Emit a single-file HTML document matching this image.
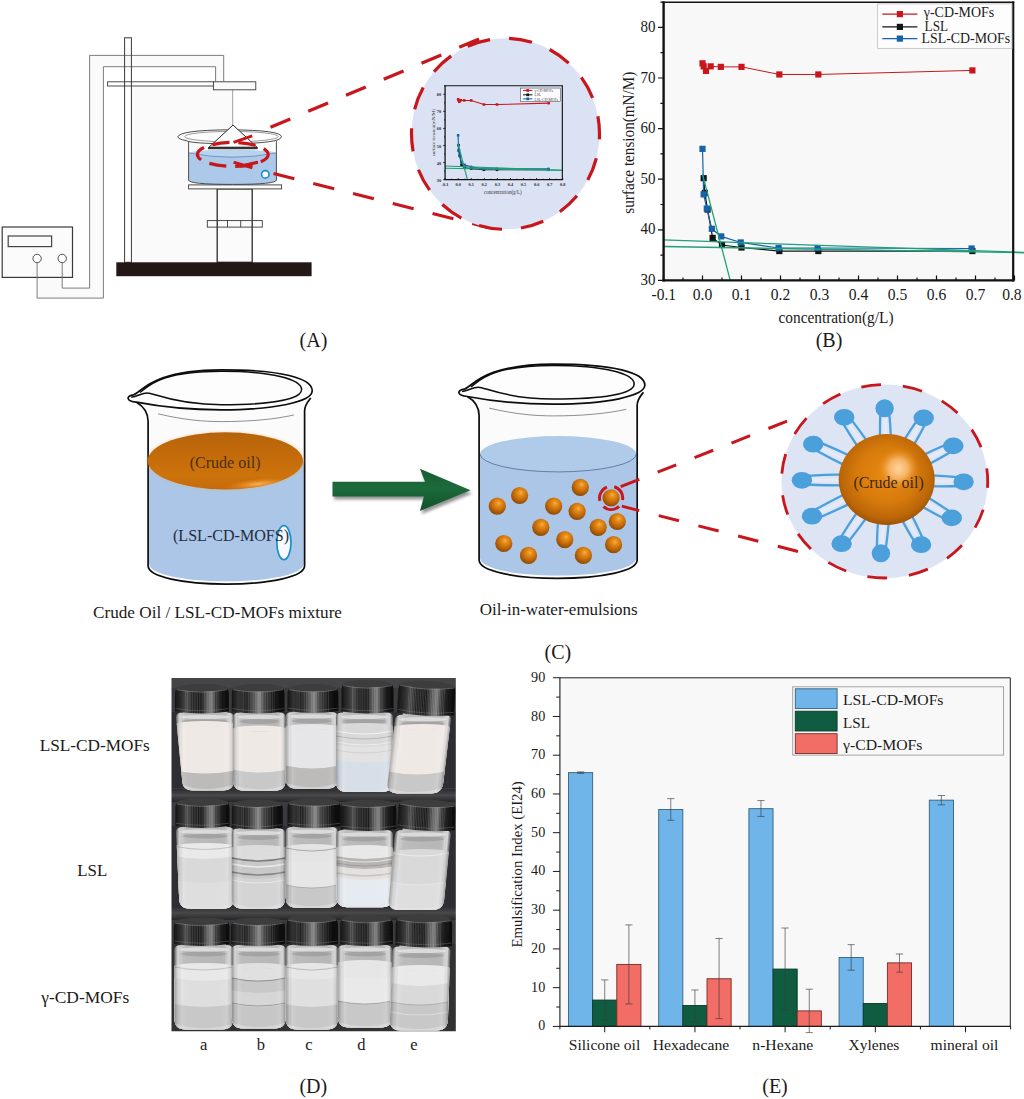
<!DOCTYPE html>
<html><head><meta charset="utf-8"><title>Figure</title>
<style>
html,body{margin:0;padding:0;background:#fff;}
body{width:1024px;height:1099px;overflow:hidden;font-family:"Liberation Serif",serif;}
svg{display:block;}
svg text{font-family:"Liberation Serif",serif;fill:#1a1a1a;}
</style></head><body>
<svg width="1024" height="1099" viewBox="0 0 1024 1099">
<defs><clipPath id="clipB"><rect x="663.6" y="2.3" width="361" height="278.1"/></clipPath>
<radialGradient id="gBall" cx="0.56" cy="0.36" r="0.62" fx="0.58" fy="0.33">
 <stop offset="0" stop-color="#f7b04a"/><stop offset="0.22" stop-color="#e8901c"/><stop offset="0.6" stop-color="#c96e0a"/><stop offset="1" stop-color="#8f4c06"/>
</radialGradient>
<radialGradient id="gBig" cx="0.5" cy="0.45" r="0.56">
 <stop offset="0" stop-color="#e98a12"/><stop offset="0.55" stop-color="#d67a0c"/><stop offset="0.85" stop-color="#bb6608"/><stop offset="1" stop-color="#9a5206"/>
</radialGradient>
<radialGradient id="gHi" cx="0.5" cy="0.5" r="0.5">
 <stop offset="0" stop-color="#ffd9a8" stop-opacity="0.95"/><stop offset="0.45" stop-color="#fbbd74" stop-opacity="0.85"/><stop offset="1" stop-color="#e98a12" stop-opacity="0"/>
</radialGradient>
<linearGradient id="gOil" x1="0" y1="0" x2="0" y2="1">
 <stop offset="0" stop-color="#b5640c"/><stop offset="0.35" stop-color="#c26a0a"/><stop offset="0.75" stop-color="#cd730c"/><stop offset="1" stop-color="#c46a0a"/>
</linearGradient>
<radialGradient id="gOilHi" cx="0.5" cy="0.5" r="0.5">
 <stop offset="0" stop-color="#ffb45a" stop-opacity="0.95"/><stop offset="1" stop-color="#e98a12" stop-opacity="0"/>
</radialGradient>
<linearGradient id="gArrow" x1="0" y1="0" x2="0" y2="1">
 <stop offset="0" stop-color="#165c32"/><stop offset="0.45" stop-color="#1c6b3b"/><stop offset="1" stop-color="#11512a"/>
</linearGradient>
<filter id="fBlur" x="-20%" y="-50%" width="140%" height="220%"><feGaussianBlur stdDeviation="1.6"/></filter>
<filter id="fBlur2" x="-20%" y="-20%" width="140%" height="140%"><feGaussianBlur stdDeviation="2.2"/></filter>

<linearGradient id="gCap" x1="0" y1="0" x2="1" y2="0">
 <stop offset="0" stop-color="#151515"/><stop offset="0.10" stop-color="#2a2a2a"/><stop offset="0.22" stop-color="#4a4a4a"/><stop offset="0.32" stop-color="#222"/>
 <stop offset="0.50" stop-color="#1a1a1a"/><stop offset="0.60" stop-color="#5e5e5e"/><stop offset="0.68" stop-color="#7a7a7a"/><stop offset="0.76" stop-color="#333"/><stop offset="0.9" stop-color="#151515"/><stop offset="1" stop-color="#0c0c0c"/>
</linearGradient>
<linearGradient id="gCap2" x1="0" y1="0" x2="1" y2="0">
 <stop offset="0" stop-color="#141414"/><stop offset="0.12" stop-color="#343434"/><stop offset="0.28" stop-color="#1c1c1c"/><stop offset="0.42" stop-color="#505050"/>
 <stop offset="0.52" stop-color="#858585"/><stop offset="0.62" stop-color="#404040"/><stop offset="0.78" stop-color="#181818"/><stop offset="1" stop-color="#0a0a0a"/>
</linearGradient>
<linearGradient id="gGlass" x1="0" y1="0" x2="1" y2="0">
 <stop offset="0" stop-color="#8c8c8c"/><stop offset="0.05" stop-color="#e2e2e2"/><stop offset="0.14" stop-color="#bcbcbc"/><stop offset="0.5" stop-color="#b9b9b9"/><stop offset="0.86" stop-color="#b6b6b6"/><stop offset="0.95" stop-color="#e4e4e4"/><stop offset="1" stop-color="#8a8a8a"/>
</linearGradient>
<linearGradient id="gShade" x1="0" y1="0" x2="1" y2="0">
 <stop offset="0" stop-color="#000" stop-opacity="0.28"/><stop offset="0.07" stop-color="#000" stop-opacity="0.04"/><stop offset="0.12" stop-color="#fff" stop-opacity="0.12"/><stop offset="0.2" stop-color="#fff" stop-opacity="0"/>
 <stop offset="0.8" stop-color="#fff" stop-opacity="0"/><stop offset="0.9" stop-color="#fff" stop-opacity="0.10"/><stop offset="0.95" stop-color="#000" stop-opacity="0.05"/><stop offset="1" stop-color="#000" stop-opacity="0.30"/>
</linearGradient>
<linearGradient id="gShelf" x1="0" y1="0" x2="0" y2="1">
 <stop offset="0" stop-color="#2c2c2e"/><stop offset="0.5" stop-color="#48484a"/><stop offset="1" stop-color="#262628"/>
</linearGradient>
<pattern id="pRidge" width="1.7" height="8" patternUnits="userSpaceOnUse"><rect width="0.7" height="8" fill="#fff" opacity="0.16"/></pattern>
<filter id="fPhoto" x="-2%" y="-2%" width="104%" height="104%"><feGaussianBlur stdDeviation="0.55"/></filter>
<filter id="fSoft" x="-10%" y="-10%" width="120%" height="120%"><feGaussianBlur stdDeviation="1.2"/></filter>
<clipPath id="clipPhoto"><rect x="171.5" y="677.9" width="284.3" height="353.3"/></clipPath>
</defs>
<rect width="1024" height="1099" fill="#ffffff"/>
<g id="panelA">
<path d="M62.2 262.7 V288.1 H89.6 V55.4 H223.7 V81.4 H215.6 V66.7 H103.4 V298.1 H37.1 V262.7" fill="#fafafa" stroke="none"/>
<rect x="131.5" y="86" width="101" height="176" fill="#fafafa"/>
<rect x="2.2" y="227" width="70.3" height="50.4" fill="#fbfbfb" stroke="#3a3a3a" stroke-width="1.2"/>
<rect x="8.2" y="236" width="43.4" height="10.6" fill="#fafafa" stroke="#444" stroke-width="1.2"/>
<circle cx="37.1" cy="258.5" r="4.2" fill="#fff" stroke="#3a3a3a" stroke-width="0.9"/>
<circle cx="62.2" cy="258.5" r="4.2" fill="#fff" stroke="#3a3a3a" stroke-width="0.9"/>
<path d="M62.2 262.7 V288.1 H89.6 V55.4 H223.7 V81.4" fill="none" stroke="#6e6e6e" stroke-width="0.9"/>
<path d="M37.1 262.7 V298.1 H103.4 V66.7 H215.6 V81.4" fill="none" stroke="#6e6e6e" stroke-width="0.9"/>
<rect x="124.6" y="37.8" width="6.8" height="224.5" fill="none" stroke="#3a3a3a" stroke-width="1"/>
<rect x="107.6" y="81.8" width="106" height="4.2" fill="none" stroke="#3a3a3a" stroke-width="0.9"/>
<rect x="213.4" y="81.8" width="42.4" height="8" fill="#fafafa" stroke="#3a3a3a" stroke-width="0.9"/>
<line x1="232.7" y1="89.9" x2="232.7" y2="125" stroke="#777" stroke-width="0.7"/>
<rect x="217.2" y="188.9" width="35" height="73.4" fill="#fbfbfb" stroke="#2a2a2a" stroke-width="1.3"/>
<rect x="207.3" y="220.6" width="55" height="6.5" fill="none" stroke="#3a3a3a" stroke-width="0.9"/>
<path d="M227.5 220.6 V227.1 M240.7 220.6 V227.1" stroke="#3a3a3a" stroke-width="0.9"/>
<rect x="188.6" y="184.9" width="93" height="4" fill="#fafafa" stroke="#3a3a3a" stroke-width="0.9"/>
<rect x="116.3" y="262.3" width="195.3" height="13.9" fill="#231815"/>
<path d="M189 153 Q232 158 276 153 L276 180 Q276 184.2 232.5 184.4 Q189 184.2 189 180 Z" fill="#adc9ea"/>
<ellipse cx="232.5" cy="153" rx="43.5" ry="3.2" fill="#b9d3ee"/>
<path d="M189 153 Q232.5 161.5 276 153" fill="none" stroke="#5b7ea6" stroke-width="0.7"/>
<path d="M188.6 141.5 V180 Q188.6 184.4 232.5 184.4 Q276.4 184.4 276.4 180 V141" fill="none" stroke="#3a3a3a" stroke-width="0.9"/>
<path d="M177.8 136.8 Q180 130.2 229.5 129.8 Q281.4 130.2 281.4 136.7 Q281.4 143.4 229.5 143.8 Q192 143.6 186 140.6 Q177.8 139 177.8 136.8 Z" fill="#ffffff" fill-opacity="0.55" stroke="#3a3a3a" stroke-width="0.9"/>
<ellipse cx="231.5" cy="136.6" rx="46.8" ry="5.2" fill="none" stroke="#555" stroke-width="0.6"/>
<path d="M233 125 L209 147.2 H257 Z" fill="#fdfdfd" stroke="#2a2a2a" stroke-width="1"/>
<rect x="208.3" y="147.3" width="49" height="1.6" fill="#2a2a2a" stroke="#2a2a2a" stroke-width="0.6"/>
<ellipse cx="232.8" cy="154.4" rx="35.4" ry="12" fill="none" stroke="#c8161d" stroke-width="3.2" stroke-dasharray="17 9" stroke-dashoffset="6"/>
<path d="M233.5 142.4 L252.2 135.9 M233.6 162.2 L252.4 167.7 M240 166.2 L258 162.2" fill="none" stroke="#c8161d" stroke-width="3"/>
<circle cx="265.3" cy="174.4" r="3.7" fill="#fbfdff" stroke="#1b8fc4" stroke-width="1.7"/>
<line x1="270.5" y1="127.3" x2="480" y2="38.5" stroke="#c8161d" stroke-width="3.2" stroke-dasharray="21.5 19.5"/>
<line x1="273.5" y1="173.5" x2="490" y2="228" stroke="#c8161d" stroke-width="3.2" stroke-dasharray="21.5 19.5"/>
<path d="M599.5 133.8 A94 95.5 0 1 1 411.5 133.8 A94 95.5 0 1 1 599.5 133.8" fill="#dbe2f4" stroke="#c8161d" stroke-width="3.2" pathLength="14" stroke-dasharray="0.55 0.45" stroke-dashoffset="0.416"/>
</g>
<g transform="translate(222.510,85.023) scale(0.3354,0.3376)">
<path d="M703.67 178.19 L704.84 192.86 L707.57 209.56 L712.64 237.9 L722.0 244.98 L741.5 247.51 L779.33 251.05 L818.33 251.05 L972.38 251.05" fill="none" stroke="#141414" stroke-width="3.4"/>
<rect x="699.92" y="174.44" width="7.5" height="7.5" fill="#141414"/>
<rect x="701.09" y="189.11" width="7.5" height="7.5" fill="#141414"/>
<rect x="703.82" y="205.81" width="7.5" height="7.5" fill="#141414"/>
<rect x="708.89" y="234.15" width="7.5" height="7.5" fill="#141414"/>
<rect x="718.25" y="241.23" width="7.5" height="7.5" fill="#141414"/>
<rect x="737.75" y="243.76" width="7.5" height="7.5" fill="#141414"/>
<rect x="775.58" y="247.30" width="7.5" height="7.5" fill="#141414"/>
<rect x="814.58" y="247.30" width="7.5" height="7.5" fill="#141414"/>
<rect x="968.63" y="247.30" width="7.5" height="7.5" fill="#141414"/>
<path d="M702.5 148.84 L703.67 194.38 L706.79 208.55 L711.86 228.79 L721.22 236.38 L740.72 242.45 L778.55 248.02 L817.55 248.02 L971.6 248.52" fill="none" stroke="#1762a8" stroke-width="3.4"/>
<rect x="698.75" y="145.09" width="7.5" height="7.5" fill="#1762a8"/>
<rect x="699.92" y="190.63" width="7.5" height="7.5" fill="#1762a8"/>
<rect x="703.04" y="204.80" width="7.5" height="7.5" fill="#1762a8"/>
<rect x="708.11" y="225.04" width="7.5" height="7.5" fill="#1762a8"/>
<rect x="717.47" y="232.63" width="7.5" height="7.5" fill="#1762a8"/>
<rect x="736.97" y="238.70" width="7.5" height="7.5" fill="#1762a8"/>
<rect x="774.80" y="244.27" width="7.5" height="7.5" fill="#1762a8"/>
<rect x="813.80" y="244.27" width="7.5" height="7.5" fill="#1762a8"/>
<rect x="967.85" y="244.77" width="7.5" height="7.5" fill="#1762a8"/>
<path d="M702.5 42.07 L703.67 45.11 L706.01 49.66 L710.69 45.11 L720.83 45.62 L741.5 45.62 L779.33 57.76 L818.33 57.76 L972.38 53.71" fill="none" stroke="#c8161d" stroke-width="3.2"/>
<rect x="698.75" y="38.32" width="7.5" height="7.5" fill="#c8161d"/>
<rect x="699.92" y="41.36" width="7.5" height="7.5" fill="#c8161d"/>
<rect x="702.26" y="45.91" width="7.5" height="7.5" fill="#c8161d"/>
<rect x="706.94" y="41.36" width="7.5" height="7.5" fill="#c8161d"/>
<rect x="717.08" y="41.87" width="7.5" height="7.5" fill="#c8161d"/>
<rect x="737.75" y="41.87" width="7.5" height="7.5" fill="#c8161d"/>
<rect x="775.58" y="54.01" width="7.5" height="7.5" fill="#c8161d"/>
<rect x="814.58" y="54.01" width="7.5" height="7.5" fill="#c8161d"/>
<rect x="968.63" y="49.96" width="7.5" height="7.5" fill="#c8161d"/>
<g clip-path="url(#clipB)">
<line x1="663.5" y1="239.92" x2="1014.5" y2="252.32" stroke="#1fa07a" stroke-width="3.4"/>
<line x1="663.5" y1="246.5" x2="1014.5" y2="252.82" stroke="#1fa07a" stroke-width="3.4"/>
<line x1="702.5" y1="174.14" x2="730.19" y2="280.4" stroke="#1fa07a" stroke-width="3.4"/>
</g>
<line x1="663.6" y1="1.5999999999999999" x2="663.6" y2="281.59999999999997" stroke="#111" stroke-width="3.8"/>
<line x1="662.4" y1="280.4" x2="1014.3000000000001" y2="280.4" stroke="#111" stroke-width="3.8"/>
<line x1="1013.2" y1="1.5999999999999999" x2="1013.2" y2="281.59999999999997" stroke="#111" stroke-width="3.4"/>
<line x1="662.4" y1="2.3" x2="1014.3000000000001" y2="2.3" stroke="#111" stroke-width="3.4"/>
<path d="M658.0 280.4 H663.6 M658.0 229.8 H663.6 M658.0 179.2 H663.6 M658.0 128.6 H663.6 M658.0 78.0 H663.6 M658.0 27.4 H663.6 M660.4 255.1 H663.6 M660.4 204.5 H663.6 M660.4 153.9 H663.6 M660.4 103.3 H663.6 M660.4 52.7 H663.6 M660.4 2.1 H663.6 M663.5 280.4 V275.4 M702.5 280.4 V275.4 M741.5 280.4 V275.4 M780.5 280.4 V275.4 M819.5 280.4 V275.4 M858.5 280.4 V275.4 M897.5 280.4 V275.4 M936.5 280.4 V275.4 M975.5 280.4 V275.4 M1014.5 280.4 V275.4 M683.0 280.4 V277.4 M722.0 280.4 V277.4 M761.0 280.4 V277.4 M800.0 280.4 V277.4 M839.0 280.4 V277.4 M878.0 280.4 V277.4 M917.0 280.4 V277.4 M956.0 280.4 V277.4 M995.0 280.4 V277.4 " stroke="#111" stroke-width="2.6" fill="none"/>
<rect x="889" y="9" width="118" height="40" fill="#fbfbfe" stroke="#444" stroke-width="1.6"/>
<line x1="896" y1="16" x2="924" y2="16" stroke="#c8161d" stroke-width="3"/>
<rect x="906" y="12" width="8" height="8" fill="#c8161d"/>
<line x1="896" y1="29" x2="924" y2="29" stroke="#141414" stroke-width="3"/>
<rect x="906" y="25" width="8" height="8" fill="#141414"/>
<line x1="896" y1="41" x2="924" y2="41" stroke="#1762a8" stroke-width="3"/>
<rect x="906" y="37" width="8" height="8" fill="#1762a8"/>
<text x="930" y="20.5" font-size="11" style="fill:#444">γ-CD-MOFs</text>
<text x="930" y="33.5" font-size="11" style="fill:#444">LSL</text>
<text x="930" y="46" font-size="11" style="fill:#444">LSL-CD-MOFs</text>
<text x="652" y="286.4" font-size="13" font-weight="bold" text-anchor="end" style="fill:#2a2a2a">30</text>
<text x="652" y="235.8" font-size="13" font-weight="bold" text-anchor="end" style="fill:#2a2a2a">40</text>
<text x="652" y="185.2" font-size="13" font-weight="bold" text-anchor="end" style="fill:#2a2a2a">50</text>
<text x="652" y="134.6" font-size="13" font-weight="bold" text-anchor="end" style="fill:#2a2a2a">60</text>
<text x="652" y="84.0" font-size="13" font-weight="bold" text-anchor="end" style="fill:#2a2a2a">70</text>
<text x="652" y="33.4" font-size="13" font-weight="bold" text-anchor="end" style="fill:#2a2a2a">80</text>
<text x="663.5" y="298" font-size="13" font-weight="bold" text-anchor="middle" style="fill:#2a2a2a">-0.1</text>
<text x="702.5" y="298" font-size="13" font-weight="bold" text-anchor="middle" style="fill:#2a2a2a">0.0</text>
<text x="741.5" y="298" font-size="13" font-weight="bold" text-anchor="middle" style="fill:#2a2a2a">0.1</text>
<text x="780.5" y="298" font-size="13" font-weight="bold" text-anchor="middle" style="fill:#2a2a2a">0.2</text>
<text x="819.5" y="298" font-size="13" font-weight="bold" text-anchor="middle" style="fill:#2a2a2a">0.3</text>
<text x="858.5" y="298" font-size="13" font-weight="bold" text-anchor="middle" style="fill:#2a2a2a">0.4</text>
<text x="897.5" y="298" font-size="13" font-weight="bold" text-anchor="middle" style="fill:#2a2a2a">0.5</text>
<text x="936.5" y="298" font-size="13" font-weight="bold" text-anchor="middle" style="fill:#2a2a2a">0.6</text>
<text x="975.5" y="298" font-size="13" font-weight="bold" text-anchor="middle" style="fill:#2a2a2a">0.7</text>
<text x="1014.5" y="298" font-size="13" font-weight="bold" text-anchor="middle" style="fill:#2a2a2a">0.8</text>
<text x="836" y="324" font-size="15" text-anchor="middle" style="fill:#333">concentration(g/L)</text>
<text transform="translate(633,141) rotate(-90)" font-size="15" text-anchor="middle" style="fill:#333">surface tension(mN/M)</text>
</g>
<g id="panelB">
<rect x="663.6" y="2.3" width="349.6" height="278.09999999999997" fill="#f8f8f8"/>
<path d="M703.67 178.19 L704.84 192.86 L707.57 209.56 L712.64 237.9 L722.0 244.98 L741.5 247.51 L779.33 251.05 L818.33 251.05 L972.38 251.05" fill="none" stroke="#141414" stroke-width="1.2"/>
<rect x="700.57" y="175.09" width="6.2" height="6.2" fill="#141414"/>
<rect x="701.74" y="189.76" width="6.2" height="6.2" fill="#141414"/>
<rect x="704.47" y="206.46" width="6.2" height="6.2" fill="#141414"/>
<rect x="709.54" y="234.80" width="6.2" height="6.2" fill="#141414"/>
<rect x="718.90" y="241.88" width="6.2" height="6.2" fill="#141414"/>
<rect x="738.40" y="244.41" width="6.2" height="6.2" fill="#141414"/>
<rect x="776.23" y="247.95" width="6.2" height="6.2" fill="#141414"/>
<rect x="815.23" y="247.95" width="6.2" height="6.2" fill="#141414"/>
<rect x="969.28" y="247.95" width="6.2" height="6.2" fill="#141414"/>
<path d="M702.5 148.84 L703.67 194.38 L706.79 208.55 L711.86 228.79 L721.22 236.38 L740.72 242.45 L778.55 248.02 L817.55 248.02 L971.6 248.52" fill="none" stroke="#1762a8" stroke-width="1.2"/>
<rect x="699.40" y="145.74" width="6.2" height="6.2" fill="#1762a8"/>
<rect x="700.57" y="191.28" width="6.2" height="6.2" fill="#1762a8"/>
<rect x="703.69" y="205.45" width="6.2" height="6.2" fill="#1762a8"/>
<rect x="708.76" y="225.69" width="6.2" height="6.2" fill="#1762a8"/>
<rect x="718.12" y="233.28" width="6.2" height="6.2" fill="#1762a8"/>
<rect x="737.62" y="239.35" width="6.2" height="6.2" fill="#1762a8"/>
<rect x="775.45" y="244.92" width="6.2" height="6.2" fill="#1762a8"/>
<rect x="814.45" y="244.92" width="6.2" height="6.2" fill="#1762a8"/>
<rect x="968.50" y="245.42" width="6.2" height="6.2" fill="#1762a8"/>
<path d="M702.5 63.33 L703.67 66.36 L706.01 70.92 L710.69 66.36 L720.83 66.87 L741.5 66.87 L779.33 74.46 L818.33 74.46 L972.38 70.41" fill="none" stroke="#c8161d" stroke-width="1.0"/>
<rect x="699.40" y="60.23" width="6.2" height="6.2" fill="#c8161d"/>
<rect x="700.57" y="63.26" width="6.2" height="6.2" fill="#c8161d"/>
<rect x="702.91" y="67.82" width="6.2" height="6.2" fill="#c8161d"/>
<rect x="707.59" y="63.26" width="6.2" height="6.2" fill="#c8161d"/>
<rect x="717.73" y="63.77" width="6.2" height="6.2" fill="#c8161d"/>
<rect x="738.40" y="63.77" width="6.2" height="6.2" fill="#c8161d"/>
<rect x="776.23" y="71.36" width="6.2" height="6.2" fill="#c8161d"/>
<rect x="815.23" y="71.36" width="6.2" height="6.2" fill="#c8161d"/>
<rect x="969.28" y="67.31" width="6.2" height="6.2" fill="#c8161d"/>
<g clip-path="url(#clipB)">
<line x1="663.5" y1="239.92" x2="1024" y2="252.32" stroke="#1fa07a" stroke-width="1.3"/>
<line x1="663.5" y1="246.5" x2="1024" y2="252.82" stroke="#1fa07a" stroke-width="1.3"/>
<line x1="702.5" y1="174.14" x2="730.19" y2="280.4" stroke="#1fa07a" stroke-width="1.3"/>
</g>
<line x1="663.6" y1="1.5999999999999999" x2="663.6" y2="281.59999999999997" stroke="#111" stroke-width="2.4"/>
<line x1="662.4" y1="280.4" x2="1014.3000000000001" y2="280.4" stroke="#111" stroke-width="2.4"/>
<line x1="1013.2" y1="1.5999999999999999" x2="1013.2" y2="281.59999999999997" stroke="#111" stroke-width="2.2"/>
<line x1="662.4" y1="2.3" x2="1014.3000000000001" y2="2.3" stroke="#111" stroke-width="1.6"/>
<path d="M658.0 280.4 H663.6 M658.0 229.8 H663.6 M658.0 179.2 H663.6 M658.0 128.6 H663.6 M658.0 78.0 H663.6 M658.0 27.4 H663.6 M660.4 255.1 H663.6 M660.4 204.5 H663.6 M660.4 153.9 H663.6 M660.4 103.3 H663.6 M660.4 52.7 H663.6 M660.4 2.1 H663.6 M663.5 280.4 V275.4 M702.5 280.4 V275.4 M741.5 280.4 V275.4 M780.5 280.4 V275.4 M819.5 280.4 V275.4 M858.5 280.4 V275.4 M897.5 280.4 V275.4 M936.5 280.4 V275.4 M975.5 280.4 V275.4 M1014.5 280.4 V275.4 M683.0 280.4 V277.4 M722.0 280.4 V277.4 M761.0 280.4 V277.4 M800.0 280.4 V277.4 M839.0 280.4 V277.4 M878.0 280.4 V277.4 M917.0 280.4 V277.4 M956.0 280.4 V277.4 M995.0 280.4 V277.4 " stroke="#111" stroke-width="1.2" fill="none"/>
<text x="655.6" y="285.0" font-size="16" text-anchor="end" textLength="15" lengthAdjust="spacingAndGlyphs">30</text>
<text x="655.6" y="234.4" font-size="16" text-anchor="end" textLength="15" lengthAdjust="spacingAndGlyphs">40</text>
<text x="655.6" y="183.8" font-size="16" text-anchor="end" textLength="15" lengthAdjust="spacingAndGlyphs">50</text>
<text x="655.6" y="133.2" font-size="16" text-anchor="end" textLength="15" lengthAdjust="spacingAndGlyphs">60</text>
<text x="655.6" y="82.6" font-size="16" text-anchor="end" textLength="15" lengthAdjust="spacingAndGlyphs">70</text>
<text x="655.6" y="32.0" font-size="16" text-anchor="end" textLength="15" lengthAdjust="spacingAndGlyphs">80</text>
<text x="663.8" y="300" font-size="16" text-anchor="middle" textLength="24.5" lengthAdjust="spacingAndGlyphs">-0.1</text>
<text x="702.5" y="300" font-size="16" text-anchor="middle" textLength="19.5" lengthAdjust="spacingAndGlyphs">0.0</text>
<text x="741.5" y="300" font-size="16" text-anchor="middle" textLength="19.5" lengthAdjust="spacingAndGlyphs">0.1</text>
<text x="780.5" y="300" font-size="16" text-anchor="middle" textLength="19.5" lengthAdjust="spacingAndGlyphs">0.2</text>
<text x="819.5" y="300" font-size="16" text-anchor="middle" textLength="19.5" lengthAdjust="spacingAndGlyphs">0.3</text>
<text x="858.5" y="300" font-size="16" text-anchor="middle" textLength="19.5" lengthAdjust="spacingAndGlyphs">0.4</text>
<text x="897.5" y="300" font-size="16" text-anchor="middle" textLength="19.5" lengthAdjust="spacingAndGlyphs">0.5</text>
<text x="936.5" y="300" font-size="16" text-anchor="middle" textLength="19.5" lengthAdjust="spacingAndGlyphs">0.6</text>
<text x="975.5" y="300" font-size="16" text-anchor="middle" textLength="19.5" lengthAdjust="spacingAndGlyphs">0.7</text>
<text x="1011.9" y="300" font-size="16" text-anchor="middle" textLength="19.5" lengthAdjust="spacingAndGlyphs">0.8</text>
<text x="836" y="322.5" font-size="16" text-anchor="middle" textLength="115" lengthAdjust="spacingAndGlyphs">concentration(g/L)</text>
<text transform="translate(634.2,142.7) rotate(-90)" font-size="16" text-anchor="middle" textLength="142" lengthAdjust="spacingAndGlyphs">surface tension(mN/M)</text>
<rect x="877.6" y="3.9" width="134.3" height="44.5" fill="#fdfdfd" stroke="#c4c4c4" stroke-width="0.9"/>
<line x1="882.3" y1="14.1" x2="917.4" y2="14.1" stroke="#c8161d" stroke-width="1.1"/>
<rect x="896.8" y="11.0" width="6.2" height="6.2" fill="#c8161d"/>
<text x="923.8" y="16.9" font-size="15" textLength="70.4" lengthAdjust="spacingAndGlyphs">γ-CD-MOFs</text>
<line x1="882.3" y1="26.9" x2="917.4" y2="26.9" stroke="#141414" stroke-width="1.1"/>
<rect x="896.8" y="23.799999999999997" width="6.2" height="6.2" fill="#141414"/>
<text x="924.6" y="30.5" font-size="15" textLength="23.5" lengthAdjust="spacingAndGlyphs">LSL</text>
<line x1="882.3" y1="38.6" x2="917.4" y2="38.6" stroke="#1762a8" stroke-width="1.1"/>
<rect x="896.8" y="35.5" width="6.2" height="6.2" fill="#1762a8"/>
<text x="921.5" y="42.5" font-size="15" textLength="88.6" lengthAdjust="spacingAndGlyphs">LSL-CD-MOFs</text>
</g>
<g id="panelC">
<g transform="translate(-1.0,0)">
<path d="M137.5 402.2 C144 406 149.1 412 149.1 421.5 V565.8 C149.1 577 185 584.1 227 584.1 C270 584.1 305.6 577 305.6 565.8 V411 C305.6 405 309 401.5 311.8 398 Z" fill="#fbfbfb"/>
<path d="M150 460.8 H304.8 V563.5 C304.8 574.5 269 581.3 227 581.3 C186 581.3 150 574.5 150 563.5 Z" fill="#abc6e7"/>
<path d="M159 413.8 C185 420 205 421.6 222.5 421.6 C250 421.6 275 419.5 294.8 415" fill="none" stroke="#444" stroke-width="0.6"/>
<path d="M137.5 402.2 C144 406 149.1 412 149.1 421.5 V565.8 C149.1 577 185 584.1 227 584.1 C270 584.1 305.6 577 305.6 565.8 V411 C305.6 405 309 401.5 311.8 398" fill="none" stroke="#0d0d0d" stroke-width="1.7"/>
<path d="M129.2 398.6 C128.6 396.6 131 395.4 134.5 394.9 C143 392 152 370.2 222.5 369.8 C282 369.8 313.2 378 313.2 390.8 C313.2 402 275 409.8 222.5 409.8 C185 409.8 155 405.6 137.5 402.2 C132.5 401.6 129.6 400.8 129.2 398.6 Z" fill="#fdfdfd" stroke="#0d0d0d" stroke-width="1.7" stroke-linejoin="round"/>
<path d="M132.2 397.2 C139 396.4 142 393 148.5 392.9 C155 392.9 175 404.7 222.5 404.7 C272 404.7 302.6 399.5 302.6 389.6 C302.6 379 272 371.2 222.5 371.2 C160 371.4 150 386 141 392.5" fill="none" stroke="#0d0d0d" stroke-width="1.5"/>
</g>
<ellipse cx="225.4" cy="460.9" rx="78.6" ry="29.2" fill="#f0a850" opacity="0.35" filter="url(#fBlur)"/>
<ellipse cx="225.4" cy="460.8" rx="77.6" ry="28.6" fill="url(#gOil)"/>
<clipPath id="clipOil"><ellipse cx="225.4" cy="460.8" rx="77.6" ry="28.6"/></clipPath>
<g clip-path="url(#clipOil)"><ellipse cx="258" cy="484" rx="34" ry="5.5" fill="url(#gOilHi)" transform="rotate(-6 258 484)"/></g>
<text x="189.7" y="468.1" font-size="16" textLength="70.8" lengthAdjust="spacingAndGlyphs" style="fill:#4a2f14">(Crude oil)</text>
<ellipse cx="283.9" cy="542.6" rx="7.1" ry="17" fill="#fbfdff" fill-opacity="0.95" stroke="#1b8fc4" stroke-width="1.7"/>
<text x="173" y="541.3" font-size="16" textLength="116" lengthAdjust="spacingAndGlyphs" style="fill:#1f2d3f">(LSL-CD-MOFS)</text>
<text x="217.5" y="618" font-size="17" text-anchor="middle" textLength="249" lengthAdjust="spacingAndGlyphs">Crude Oil / LSL-CD-MOFs mixture</text>
<path d="M332.5 481.7 H425 L420 468.75 L470.5 490.3 L420 510.9 L423.9 496.4 H332.5 Z" fill="#5a5a5a" opacity="0.65" transform="translate(1.6,3.2)" filter="url(#fBlur)"/>
<path d="M332.5 481.7 H425 L420 468.75 L470.5 490.3 L420 510.9 L423.9 496.4 H332.5 Z" fill="url(#gArrow)"/>
<g transform="translate(330,-5.7)">
<g transform="translate(149.1,0) scale(1.01,1) translate(-149.1,0)">
<path d="M137.5 402.2 C144 406 149.1 412 149.1 421.5 V565.8 C149.1 577 185 584.1 227 584.1 C270 584.1 305.6 577 305.6 565.8 V411 C305.6 405 309 401.5 311.8 398 Z" fill="#fbfbfb"/>
<path d="M150 459.7 H304.8 V563.5 C304.8 574.5 269 581.3 227 581.3 C186 581.3 150 574.5 150 563.5 Z" fill="#abc6e7"/>
<ellipse cx="227.4" cy="459.7" rx="77.4" ry="17.9" fill="#b0cbea"/>
<path d="M150 459.7 A77.4 17.9 0 0 0 304.8 459.7" fill="none" stroke="#3d5f86" stroke-width="0.7"/>
<path d="M159 413.8 C185 420 205 421.6 222.5 421.6 C250 421.6 275 419.5 294.8 415" fill="none" stroke="#444" stroke-width="0.6"/>
<path d="M137.5 402.2 C144 406 149.1 412 149.1 421.5 V565.8 C149.1 577 185 584.1 227 584.1 C270 584.1 305.6 577 305.6 565.8 V411 C305.6 405 309 401.5 311.8 398" fill="none" stroke="#0d0d0d" stroke-width="1.7"/>
<path d="M129.2 398.6 C128.6 396.6 131 395.4 134.5 394.9 C143 392 152 370.2 222.5 369.8 C282 369.8 313.2 378 313.2 390.8 C313.2 402 275 409.8 222.5 409.8 C185 409.8 155 405.6 137.5 402.2 C132.5 401.6 129.6 400.8 129.2 398.6 Z" fill="#fdfdfd" stroke="#0d0d0d" stroke-width="1.7" stroke-linejoin="round"/>
<path d="M132.2 397.2 C139 396.4 142 393 148.5 392.9 C155 392.9 175 404.7 222.5 404.7 C272 404.7 302.6 399.5 302.6 389.6 C302.6 379 272 371.2 222.5 371.2 C160 371.4 150 386 141 392.5" fill="none" stroke="#0d0d0d" stroke-width="1.5"/>
</g>
</g>
<circle cx="497.3" cy="506.1" r="8.6" fill="url(#gBall)"/>
<circle cx="519.6" cy="495.5" r="8.6" fill="url(#gBall)"/>
<circle cx="553.7" cy="506.1" r="8.6" fill="url(#gBall)"/>
<circle cx="580.3" cy="487.3" r="8.6" fill="url(#gBall)"/>
<circle cx="577.1" cy="511.3" r="8.6" fill="url(#gBall)"/>
<circle cx="611.1" cy="497.9" r="8.6" fill="url(#gBall)"/>
<circle cx="540.8" cy="527.3" r="8.6" fill="url(#gBall)"/>
<circle cx="598.2" cy="527.3" r="8.6" fill="url(#gBall)"/>
<circle cx="617.3" cy="521.5" r="8.6" fill="url(#gBall)"/>
<circle cx="503.8" cy="543.5" r="8.6" fill="url(#gBall)"/>
<circle cx="564.8" cy="539.6" r="8.6" fill="url(#gBall)"/>
<circle cx="613.6" cy="544.7" r="8.6" fill="url(#gBall)"/>
<circle cx="528.5" cy="555.4" r="8.6" fill="url(#gBall)"/>
<circle cx="583.4" cy="555.4" r="8.6" fill="url(#gBall)"/>
<text x="558.7" y="615" font-size="17" text-anchor="middle" textLength="158" lengthAdjust="spacingAndGlyphs">Oil-in-water-emulsions</text>
<circle cx="611.1" cy="497.9" r="11.6" fill="none" stroke="#c8161d" stroke-width="3" stroke-dasharray="17 7.3" stroke-dashoffset="-3" transform="rotate(150 611.1 497.9)"/>
<line x1="620.7" y1="486.7" x2="790" y2="420" stroke="#c8161d" stroke-width="3" stroke-dasharray="20 19.7"/>
<line x1="621.8" y1="506.1" x2="798" y2="551.5" stroke="#c8161d" stroke-width="3" stroke-dasharray="20.9 20.1" stroke-dashoffset="2.9"/>
<path d="M987.7 481.3 A103.1 96.7 0 1 1 781.5 481.3 A103.1 96.7 0 1 1 987.7 481.3" fill="#dde4f4" stroke="#c8161d" stroke-width="2.8" pathLength="15" stroke-dasharray="0.475 0.525" stroke-dashoffset="0.3125"/>
<path d="M888.8 408.2 Q890.5 425.3 891.0 439.4" fill="none" stroke="#4b9fdb" stroke-width="2.3" stroke-linecap="round"/>
<path d="M880.4 408.4 Q879.8 425.6 880.0 439.7" fill="none" stroke="#4b9fdb" stroke-width="2.3" stroke-linecap="round"/>
<line x1="884.8" y1="414.3" x2="885.5" y2="437.5" stroke="#e4eaf7" stroke-width="3.4"/>
<ellipse cx="884.6" cy="408.3" rx="9.2" ry="9.0" fill="#4b9fdb"/>
<path d="M927.3 420.2 Q919.3 435.7 912.0 448.1" fill="none" stroke="#4b9fdb" stroke-width="2.3" stroke-linecap="round"/>
<path d="M920.1 415.8 Q910.2 430.1 902.6 442.4" fill="none" stroke="#4b9fdb" stroke-width="2.3" stroke-linecap="round"/>
<line x1="920.6" y1="423.1" x2="908.4" y2="443.5" stroke="#e4eaf7" stroke-width="3.4"/>
<ellipse cx="923.7" cy="418" rx="10.2" ry="8.4" fill="#4b9fdb"/>
<path d="M955.2 449.6 Q938.9 459.1 924.9 466.4" fill="none" stroke="#4b9fdb" stroke-width="2.3" stroke-linecap="round"/>
<path d="M951.4 442.2 Q934.1 449.6 919.9 456.6" fill="none" stroke="#4b9fdb" stroke-width="2.3" stroke-linecap="round"/>
<line x1="947.9" y1="448.6" x2="924.2" y2="460.6" stroke="#e4eaf7" stroke-width="3.4"/>
<ellipse cx="953.3" cy="445.9" rx="10.2" ry="8.4" fill="#4b9fdb"/>
<path d="M963.5 486.0 Q943.5 486.6 926.5 486.2" fill="none" stroke="#4b9fdb" stroke-width="2.3" stroke-linecap="round"/>
<path d="M963.7 477.6 Q943.8 475.9 926.8 475.2" fill="none" stroke="#4b9fdb" stroke-width="2.3" stroke-linecap="round"/>
<line x1="957.6" y1="481.6" x2="928.7" y2="480.8" stroke="#e4eaf7" stroke-width="3.4"/>
<ellipse cx="963.6" cy="481.8" rx="10.2" ry="8.4" fill="#4b9fdb"/>
<path d="M949.7 521.5 Q932.5 512.7 918.4 504.6" fill="none" stroke="#4b9fdb" stroke-width="2.3" stroke-linecap="round"/>
<path d="M953.9 514.3 Q937.9 503.5 923.9 495.1" fill="none" stroke="#4b9fdb" stroke-width="2.3" stroke-linecap="round"/>
<line x1="946.6" y1="514.9" x2="922.9" y2="500.8" stroke="#e4eaf7" stroke-width="3.4"/>
<ellipse cx="951.8" cy="517.9" rx="10.2" ry="8.4" fill="#4b9fdb"/>
<path d="M917.4 546.7 Q907.8 531.0 900.5 517.4" fill="none" stroke="#4b9fdb" stroke-width="2.3" stroke-linecap="round"/>
<path d="M924.8 542.7 Q917.3 526.0 910.2 512.3" fill="none" stroke="#4b9fdb" stroke-width="2.3" stroke-linecap="round"/>
<line x1="918.3" y1="539.4" x2="906.3" y2="516.6" stroke="#e4eaf7" stroke-width="3.4"/>
<ellipse cx="921.1" cy="544.7" rx="10.2" ry="8.4" fill="#4b9fdb"/>
<path d="M876.7 553.0 Q877.0 534.4 878.1 518.9" fill="none" stroke="#4b9fdb" stroke-width="2.3" stroke-linecap="round"/>
<path d="M885.1 553.6 Q887.7 535.3 889.0 519.8" fill="none" stroke="#4b9fdb" stroke-width="2.3" stroke-linecap="round"/>
<line x1="881.4" y1="547.3" x2="883.4" y2="521.4" stroke="#e4eaf7" stroke-width="3.4"/>
<ellipse cx="880.9" cy="553.3" rx="9.2" ry="9.0" fill="#4b9fdb"/>
<path d="M838.2 541.3 Q849.1 523.7 859.2 509.1" fill="none" stroke="#4b9fdb" stroke-width="2.3" stroke-linecap="round"/>
<path d="M845.0 546.1 Q857.9 529.8 868.2 515.4" fill="none" stroke="#4b9fdb" stroke-width="2.3" stroke-linecap="round"/>
<line x1="845.0" y1="538.8" x2="862.6" y2="513.9" stroke="#e4eaf7" stroke-width="3.4"/>
<ellipse cx="841.6" cy="543.7" rx="10.2" ry="8.4" fill="#4b9fdb"/>
<path d="M810.1 512.4 Q830.4 501.2 848.4 492.2" fill="none" stroke="#4b9fdb" stroke-width="2.3" stroke-linecap="round"/>
<path d="M813.9 520.0 Q835.1 510.8 853.2 502.1" fill="none" stroke="#4b9fdb" stroke-width="2.3" stroke-linecap="round"/>
<line x1="817.4" y1="513.6" x2="849.0" y2="498.0" stroke="#e4eaf7" stroke-width="3.4"/>
<ellipse cx="812" cy="516.2" rx="10.2" ry="8.4" fill="#4b9fdb"/>
<path d="M801.9 476.1 Q825.8 474.7 846.6 474.4" fill="none" stroke="#4b9fdb" stroke-width="2.3" stroke-linecap="round"/>
<path d="M801.9 484.5 Q825.9 485.4 846.8 485.4" fill="none" stroke="#4b9fdb" stroke-width="2.3" stroke-linecap="round"/>
<line x1="807.9" y1="480.2" x2="844.7" y2="479.9" stroke="#e4eaf7" stroke-width="3.4"/>
<ellipse cx="801.9" cy="480.3" rx="10.2" ry="8.4" fill="#4b9fdb"/>
<path d="M815.0 440.4 Q835.6 449.0 853.0 457.2" fill="none" stroke="#4b9fdb" stroke-width="2.3" stroke-linecap="round"/>
<path d="M811.4 448.0 Q831.0 458.7 848.3 467.1" fill="none" stroke="#4b9fdb" stroke-width="2.3" stroke-linecap="round"/>
<line x1="818.6" y1="446.8" x2="848.8" y2="461.3" stroke="#e4eaf7" stroke-width="3.4"/>
<ellipse cx="813.2" cy="444.2" rx="10.2" ry="8.4" fill="#4b9fdb"/>
<path d="M847.7 414.9 Q859.4 430.1 868.7 443.4" fill="none" stroke="#4b9fdb" stroke-width="2.3" stroke-linecap="round"/>
<path d="M840.7 419.7 Q850.6 436.1 859.6 449.6" fill="none" stroke="#4b9fdb" stroke-width="2.3" stroke-linecap="round"/>
<line x1="847.6" y1="422.3" x2="863.0" y2="444.8" stroke="#e4eaf7" stroke-width="3.4"/>
<ellipse cx="844.2" cy="417.3" rx="10.2" ry="8.4" fill="#4b9fdb"/>
<ellipse cx="886.7" cy="479.5" rx="48" ry="45.4" fill="url(#gBig)"/>
<circle cx="898.5" cy="468.5" r="21" fill="url(#gHi)"/>
<text x="853.4" y="487.8" font-size="16" textLength="70.3" lengthAdjust="spacingAndGlyphs" style="fill:#3d2810">(Crude oil)</text>
</g><g id="panelD">
<g clip-path="url(#clipPhoto)"><g filter="url(#fPhoto)">
<rect x="169.5" y="675.9" width="288.3" height="357.30000000000007" fill="#3a3a3c"/>
<rect x="169.5" y="675.9" width="288.3" height="12" fill="#454547"/>
<rect x="169.5" y="789" width="288.3" height="13" fill="url(#gShelf)"/>
<rect x="169.5" y="906" width="288.3" height="14" fill="url(#gShelf)"/>
<rect x="169.5" y="1026" width="288.3" height="8" fill="#303032"/>
<rect x="169.5" y="712" width="288.3" height="76" fill="#2f2f31"/>
<rect x="169.5" y="826" width="288.3" height="80" fill="#2f2f31"/>
<rect x="169.5" y="944" width="288.3" height="82" fill="#303032"/>
<clipPath id="cv1"><path d="M183.1 709.5 V712.5 Q176.1 712.5 176.1 717.5 L182.1 779.5 Q182.1 790.5 193.1 790.5 L222.9 790.5 Q233.9 790.5 233.9 779.5 L233.9 717.5 Q233.9 712.5 226.9 712.5 V709.5 Z"/></clipPath>
<path d="M183.1 709.5 V712.5 Q176.1 712.5 176.1 717.5 L182.1 779.5 Q182.1 790.5 193.1 790.5 L222.9 790.5 Q233.9 790.5 233.9 779.5 L233.9 717.5 Q233.9 712.5 226.9 712.5 V709.5 Z" fill="url(#gGlass)"/>
<g clip-path="url(#cv1)">
<ellipse cx="205.0" cy="717.0" rx="25.9" ry="2.2" fill="#e6e6e6" opacity="0.75"/>
<ellipse cx="205.0" cy="721.5" rx="22.9" ry="2.4" fill="#8e8e8e" opacity="0.5"/>
<path d="M175.1 724.0 Q205.0 730.0 234.9 724.0 V792.5 H175.1 Z" fill="#efe9e6"/>
<ellipse cx="205.0" cy="724.0" rx="28.9" ry="3.0" fill="#efe9e6"/>
<path d="M175.1 770.5 Q205.0 776.5 234.9 770.5 V792.5 H175.1 Z" fill="#bcbbba"/>
<path d="M182.1 784.5 Q205.0 793.5 233.9 784.5 V792.5 H176.1 Z" fill="#e4e4e4" opacity="0.55"/>
<rect x="176.1" y="712.5" width="57.8" height="78.0" fill="url(#gShade)"/>
</g>
<ellipse cx="201.9" cy="688.5" rx="25.4" ry="4.6" fill="#3d3d3e"/>
<path d="M176.0 689.0 Q201.9 694.0 227.8 689.0 L228.8 693.0 V711.5 Q201.9 715.5 175.0 711.5 V693.0 Z" fill="url(#gCap)"/>
<clipPath id="cc1"><path d="M176.0 689.0 Q201.9 694.0 227.8 689.0 L228.8 693.0 V711.5 Q201.9 715.5 175.0 711.5 V693.0 Z"/></clipPath>
<rect x="184.7" y="690.0" width="34.4" height="26.0" fill="url(#pRidge)" clip-path="url(#cc1)"/>
<path d="M176.5 689.6 Q201.9 694.6 227.3 689.6" fill="none" stroke="#8c8c8c" stroke-width="0.8" opacity="0.7"/>
<path d="M175.5 708.6 Q201.9 712.8 228.3 708.6" fill="none" stroke="#8a8a8a" stroke-width="0.7" opacity="0.5"/>
<clipPath id="cv2"><path d="M240.0 709.5 V712.5 Q233.0 712.5 233.0 717.5 L233.0 779.7 Q233.0 790.7 244.0 790.7 L274.7 790.7 Q285.7 790.7 285.7 779.7 L285.7 717.5 Q285.7 712.5 278.7 712.5 V709.5 Z"/></clipPath>
<path d="M240.0 709.5 V712.5 Q233.0 712.5 233.0 717.5 L233.0 779.7 Q233.0 790.7 244.0 790.7 L274.7 790.7 Q285.7 790.7 285.7 779.7 L285.7 717.5 Q285.7 712.5 278.7 712.5 V709.5 Z" fill="url(#gGlass)"/>
<g clip-path="url(#cv2)">
<ellipse cx="259.4" cy="717.0" rx="23.3" ry="2.2" fill="#e6e6e6" opacity="0.75"/>
<ellipse cx="259.4" cy="721.5" rx="20.3" ry="2.4" fill="#8e8e8e" opacity="0.5"/>
<path d="M232.0 728.6 Q259.4 734.6 286.7 728.6 V792.7 H232.0 Z" fill="#efe9e6"/>
<ellipse cx="259.4" cy="728.6" rx="26.3" ry="3.0" fill="#efe9e6"/>
<path d="M232.0 769.5 Q259.4 775.5 286.7 769.5 V792.7 H232.0 Z" fill="#c8c8c8"/>
<path d="M233.0 784.7 Q259.4 793.7 285.7 784.7 V792.7 H233.0 Z" fill="#e4e4e4" opacity="0.55"/>
<rect x="233.0" y="712.5" width="52.7" height="78.2" fill="url(#gShade)"/>
</g>
<ellipse cx="258.1" cy="688.5" rx="24.8" ry="4.6" fill="#3d3d3e"/>
<path d="M232.8 689.0 Q258.1 694.0 283.5 689.0 L284.5 693.0 V711.5 Q258.1 715.5 231.8 711.5 V693.0 Z" fill="url(#gCap2)"/>
<clipPath id="cc2"><path d="M232.8 689.0 Q258.1 694.0 283.5 689.0 L284.5 693.0 V711.5 Q258.1 715.5 231.8 711.5 V693.0 Z"/></clipPath>
<rect x="241.3" y="690.0" width="33.7" height="26.0" fill="url(#pRidge)" clip-path="url(#cc2)"/>
<path d="M233.3 689.6 Q258.1 694.6 283.0 689.6" fill="none" stroke="#8c8c8c" stroke-width="0.8" opacity="0.7"/>
<path d="M232.3 708.6 Q258.1 712.8 284.0 708.6" fill="none" stroke="#8a8a8a" stroke-width="0.7" opacity="0.5"/>
<clipPath id="cv3"><path d="M292.7 709.0 V712.0 Q285.7 712.0 285.7 717.0 L285.7 777.7 Q285.7 788.7 296.7 788.7 L326.9 788.7 Q337.9 788.7 337.9 777.7 L337.9 717.0 Q337.9 712.0 330.9 712.0 V709.0 Z"/></clipPath>
<path d="M292.7 709.0 V712.0 Q285.7 712.0 285.7 717.0 L285.7 777.7 Q285.7 788.7 296.7 788.7 L326.9 788.7 Q337.9 788.7 337.9 777.7 L337.9 717.0 Q337.9 712.0 330.9 712.0 V709.0 Z" fill="url(#gGlass)"/>
<g clip-path="url(#cv3)">
<ellipse cx="311.8" cy="716.5" rx="23.1" ry="2.2" fill="#e6e6e6" opacity="0.75"/>
<ellipse cx="311.8" cy="721.0" rx="20.1" ry="2.4" fill="#8e8e8e" opacity="0.5"/>
<path d="M284.7 727.0 Q311.8 733.0 338.9 727.0 V790.7 H284.7 Z" fill="#e6e6e8"/>
<ellipse cx="311.8" cy="727.0" rx="26.1" ry="3.0" fill="#e6e6e8"/>
<path d="M284.7 765.5 Q311.8 771.5 338.9 765.5 V790.7 H284.7 Z" fill="#bcbbba"/>
<path d="M285.7 782.7 Q311.8 791.7 337.9 782.7 V790.7 H285.7 Z" fill="#e4e4e4" opacity="0.55"/>
<rect x="285.7" y="712.0" width="52.2" height="76.7" fill="url(#gShade)"/>
</g>
<ellipse cx="312.9" cy="688.5" rx="23.9" ry="4.6" fill="#3d3d3e"/>
<path d="M288.5 689.0 Q312.9 694.0 337.4 689.0 L338.4 693.0 V711.0 Q312.9 715.0 287.5 711.0 V693.0 Z" fill="url(#gCap2)"/>
<clipPath id="cc3"><path d="M288.5 689.0 Q312.9 694.0 337.4 689.0 L338.4 693.0 V711.0 Q312.9 715.0 287.5 711.0 V693.0 Z"/></clipPath>
<rect x="296.7" y="690.0" width="32.6" height="25.5" fill="url(#pRidge)" clip-path="url(#cc3)"/>
<path d="M289.0 689.6 Q312.9 694.6 336.9 689.6" fill="none" stroke="#8c8c8c" stroke-width="0.8" opacity="0.7"/>
<path d="M288.0 708.1 Q312.9 712.3 337.9 708.1" fill="none" stroke="#8a8a8a" stroke-width="0.7" opacity="0.5"/>
<clipPath id="cv4"><path d="M343.0 709.5 V712.5 Q336.0 712.5 336.0 717.5 L336.0 780.9 Q336.0 791.9 347.0 791.9 L381.8 791.9 Q392.8 791.9 392.8 780.9 L392.8 717.5 Q392.8 712.5 385.8 712.5 V709.5 Z"/></clipPath>
<path d="M343.0 709.5 V712.5 Q336.0 712.5 336.0 717.5 L336.0 780.9 Q336.0 791.9 347.0 791.9 L381.8 791.9 Q392.8 791.9 392.8 780.9 L392.8 717.5 Q392.8 712.5 385.8 712.5 V709.5 Z" fill="url(#gGlass)"/>
<g clip-path="url(#cv4)">
<ellipse cx="364.4" cy="717.0" rx="25.4" ry="2.2" fill="#e6e6e6" opacity="0.75"/>
<ellipse cx="364.4" cy="721.5" rx="22.4" ry="2.4" fill="#8e8e8e" opacity="0.5"/>
<path d="M335.0 726.0 Q364.4 732.0 393.8 726.0 V793.9 H335.0 Z" fill="#d9d9d9"/>
<ellipse cx="364.4" cy="726.0" rx="28.4" ry="3.0" fill="#d9d9d9"/>
<path d="M335.0 744.0 Q364.4 750.0 393.8 744.0 V793.9 H335.0 Z" fill="#e2e2e2"/>
<path d="M335.0 759.5 Q364.4 765.5 393.8 759.5 V793.9 H335.0 Z" fill="#d6dee8"/>
<path d="M336.0 731.0 Q364.4 737.0 392.8 731.0" fill="none" stroke="#f4f4f4" stroke-width="1.2" opacity="0.9"/>
<path d="M336.0 736.0 Q364.4 742.0 392.8 736.0" fill="none" stroke="#9a9a9a" stroke-width="0.9" opacity="0.6"/>
<path d="M336.0 742.0 Q364.4 748.0 392.8 742.0" fill="none" stroke="#f0f0f0" stroke-width="1.0" opacity="0.8"/>
<path d="M336.0 750.0 Q364.4 756.0 392.8 750.0" fill="none" stroke="#c4c4c4" stroke-width="0.8" opacity="0.7"/>
<path d="M336.0 785.9 Q364.4 794.9 392.8 785.9 V793.9 H336.0 Z" fill="#e4e4e4" opacity="0.55"/>
<rect x="336.0" y="712.5" width="56.8" height="79.4" fill="url(#gShade)"/>
</g>
<ellipse cx="367.5" cy="684.5" rx="24.5" ry="4.6" fill="#3d3d3e"/>
<path d="M342.5 685.0 Q367.5 690.0 392.5 685.0 L393.5 689.0 V711.5 Q367.5 715.5 341.5 711.5 V689.0 Z" fill="url(#gCap)"/>
<clipPath id="cc4"><path d="M342.5 685.0 Q367.5 690.0 392.5 685.0 L393.5 689.0 V711.5 Q367.5 715.5 341.5 711.5 V689.0 Z"/></clipPath>
<rect x="350.9" y="686.0" width="33.3" height="30.0" fill="url(#pRidge)" clip-path="url(#cc4)"/>
<path d="M343.0 685.6 Q367.5 690.6 392.0 685.6" fill="none" stroke="#8c8c8c" stroke-width="0.8" opacity="0.7"/>
<path d="M342.0 708.6 Q367.5 712.8 393.0 708.6" fill="none" stroke="#8a8a8a" stroke-width="0.7" opacity="0.5"/>
<g transform="translate(85.23,0) skewX(-6.8)">
<clipPath id="cv5"><path d="M402.7 711.8 V714.8 Q395.7 714.8 395.7 719.8 L395.7 782.4 Q395.7 793.4 406.7 793.4 L440.4 793.4 Q451.4 793.4 451.4 782.4 L451.4 719.8 Q451.4 714.8 444.4 714.8 V711.8 Z"/></clipPath>
<path d="M402.7 711.8 V714.8 Q395.7 714.8 395.7 719.8 L395.7 782.4 Q395.7 793.4 406.7 793.4 L440.4 793.4 Q451.4 793.4 451.4 782.4 L451.4 719.8 Q451.4 714.8 444.4 714.8 V711.8 Z" fill="url(#gGlass)"/>
<g clip-path="url(#cv5)">
<ellipse cx="423.5" cy="719.3" rx="24.8" ry="2.2" fill="#e6e6e6" opacity="0.75"/>
<ellipse cx="423.5" cy="723.8" rx="21.8" ry="2.4" fill="#8e8e8e" opacity="0.5"/>
<path d="M394.7 727.0 Q423.5 733.0 452.4 727.0 V795.4 H394.7 Z" fill="#efe9e6"/>
<ellipse cx="423.5" cy="727.0" rx="27.8" ry="3.0" fill="#efe9e6"/>
<path d="M394.7 771.5 Q423.5 777.5 452.4 771.5 V795.4 H394.7 Z" fill="#c8c8c8"/>
<path d="M395.7 787.4 Q423.5 796.4 451.4 787.4 V795.4 H395.7 Z" fill="#e4e4e4" opacity="0.55"/>
<rect x="395.7" y="714.8" width="55.7" height="78.6" fill="url(#gShade)"/>
</g>
</g>
<g transform="rotate(3.06 426.4 698.6)">
<ellipse cx="426.4" cy="685.5" rx="27.1" ry="4.6" fill="#3d3d3e"/>
<path d="M398.9 686.0 Q426.4 691.0 454.0 686.0 L455.0 690.0 V713.8 Q426.4 717.8 397.9 713.8 V690.0 Z" fill="url(#gCap)"/>
<clipPath id="cc5"><path d="M398.9 686.0 Q426.4 691.0 454.0 686.0 L455.0 690.0 V713.8 Q426.4 717.8 397.9 713.8 V690.0 Z"/></clipPath>
<rect x="408.2" y="687.0" width="36.5" height="31.3" fill="url(#pRidge)" clip-path="url(#cc5)"/>
<path d="M399.4 686.6 Q426.4 691.6 453.5 686.6" fill="none" stroke="#8c8c8c" stroke-width="0.8" opacity="0.7"/>
<path d="M398.4 710.9 Q426.4 715.1 454.5 710.9" fill="none" stroke="#8a8a8a" stroke-width="0.7" opacity="0.5"/>
</g>
<clipPath id="cv6"><path d="M183.1 824.1 V827.1 Q176.1 827.1 176.1 832.1 L179.1 897.7 Q179.1 908.7 190.1 908.7 L222.8 908.7 Q233.8 908.7 233.8 897.7 L233.8 832.1 Q233.8 827.1 226.8 827.1 V824.1 Z"/></clipPath>
<path d="M183.1 824.1 V827.1 Q176.1 827.1 176.1 832.1 L179.1 897.7 Q179.1 908.7 190.1 908.7 L222.8 908.7 Q233.8 908.7 233.8 897.7 L233.8 832.1 Q233.8 827.1 226.8 827.1 V824.1 Z" fill="url(#gGlass)"/>
<g clip-path="url(#cv6)">
<ellipse cx="204.9" cy="831.6" rx="25.9" ry="2.2" fill="#e6e6e6" opacity="0.75"/>
<ellipse cx="204.9" cy="836.1" rx="22.9" ry="2.4" fill="#8e8e8e" opacity="0.5"/>
<path d="M175.1 846.0 Q204.9 852.0 234.8 846.0 V910.7 H175.1 Z" fill="#e9e9e9"/>
<ellipse cx="204.9" cy="846.0" rx="28.9" ry="3.0" fill="#e9e9e9"/>
<path d="M175.1 856.0 Q204.9 862.0 234.8 856.0 V910.7 H175.1 Z" fill="#d9d9d9"/>
<path d="M175.1 880.0 Q204.9 886.0 234.8 880.0 V910.7 H175.1 Z" fill="#dedede"/>
<path d="M176.1 846.5 Q204.9 852.5 233.8 846.5" fill="none" stroke="#8a8a8a" stroke-width="0.8" opacity="0.5"/>
<path d="M179.1 902.7 Q204.9 911.7 233.8 902.7 V910.7 H176.1 Z" fill="#e4e4e4" opacity="0.55"/>
<rect x="176.1" y="827.1" width="57.7" height="81.6" fill="url(#gShade)"/>
</g>
<ellipse cx="202.4" cy="802.8" rx="25.6" ry="4.6" fill="#3d3d3e"/>
<path d="M176.3 803.3 Q202.4 808.3 228.5 803.3 L229.5 807.3 V826.1 Q202.4 830.1 175.3 826.1 V807.3 Z" fill="url(#gCap)"/>
<clipPath id="cc6"><path d="M176.3 803.3 Q202.4 808.3 228.5 803.3 L229.5 807.3 V826.1 Q202.4 830.1 175.3 826.1 V807.3 Z"/></clipPath>
<rect x="185.1" y="804.3" width="34.7" height="26.3" fill="url(#pRidge)" clip-path="url(#cc6)"/>
<path d="M176.8 803.9 Q202.4 808.9 228.0 803.9" fill="none" stroke="#8c8c8c" stroke-width="0.8" opacity="0.7"/>
<path d="M175.8 823.2 Q202.4 827.4 229.0 823.2" fill="none" stroke="#8a8a8a" stroke-width="0.7" opacity="0.5"/>
<clipPath id="cv7"><path d="M238.8 825.5 V828.5 Q231.8 828.5 231.8 833.5 L231.8 897.7 Q231.8 908.7 242.8 908.7 L274.1 908.7 Q285.1 908.7 285.1 897.7 L285.1 833.5 Q285.1 828.5 278.1 828.5 V825.5 Z"/></clipPath>
<path d="M238.8 825.5 V828.5 Q231.8 828.5 231.8 833.5 L231.8 897.7 Q231.8 908.7 242.8 908.7 L274.1 908.7 Q285.1 908.7 285.1 897.7 L285.1 833.5 Q285.1 828.5 278.1 828.5 V825.5 Z" fill="url(#gGlass)"/>
<g clip-path="url(#cv7)">
<ellipse cx="258.5" cy="833.0" rx="23.7" ry="2.2" fill="#e6e6e6" opacity="0.75"/>
<ellipse cx="258.5" cy="837.5" rx="20.7" ry="2.4" fill="#8e8e8e" opacity="0.5"/>
<path d="M230.8 848.0 Q258.5 854.0 286.1 848.0 V910.7 H230.8 Z" fill="#dcdcdc"/>
<ellipse cx="258.5" cy="848.0" rx="26.7" ry="3.0" fill="#dcdcdc"/>
<path d="M230.8 858.0 Q258.5 864.0 286.1 858.0 V910.7 H230.8 Z" fill="#c8c8c8"/>
<path d="M230.8 876.0 Q258.5 882.0 286.1 876.0 V910.7 H230.8 Z" fill="#d4d4d4"/>
<path d="M231.8 858.0 Q258.5 864.0 285.1 858.0" fill="none" stroke="#555" stroke-width="1.6" opacity="0.7"/>
<path d="M231.8 872.0 Q258.5 878.0 285.1 872.0" fill="none" stroke="#666" stroke-width="1.4" opacity="0.7"/>
<path d="M231.8 864.0 Q258.5 870.0 285.1 864.0" fill="none" stroke="#f2f2f2" stroke-width="1.5" opacity="0.8"/>
<path d="M231.8 880.0 Q258.5 886.0 285.1 880.0" fill="none" stroke="#ececec" stroke-width="1.2" opacity="0.8"/>
<path d="M231.8 902.7 Q258.5 911.7 285.1 902.7 V910.7 H231.8 Z" fill="#e4e4e4" opacity="0.55"/>
<rect x="231.8" y="828.5" width="53.3" height="80.2" fill="url(#gShade)"/>
</g>
<ellipse cx="257.3" cy="804.0" rx="24.0" ry="4.6" fill="#3d3d3e"/>
<path d="M232.8 804.5 Q257.3 809.5 281.8 804.5 L282.8 808.5 V827.5 Q257.3 831.5 231.8 827.5 V808.5 Z" fill="url(#gCap2)"/>
<clipPath id="cc7"><path d="M232.8 804.5 Q257.3 809.5 281.8 804.5 L282.8 808.5 V827.5 Q257.3 831.5 231.8 827.5 V808.5 Z"/></clipPath>
<rect x="241.0" y="805.5" width="32.6" height="26.5" fill="url(#pRidge)" clip-path="url(#cc7)"/>
<path d="M233.3 805.1 Q257.3 810.1 281.3 805.1" fill="none" stroke="#8c8c8c" stroke-width="0.8" opacity="0.7"/>
<path d="M232.3 824.6 Q257.3 828.8 282.3 824.6" fill="none" stroke="#8a8a8a" stroke-width="0.7" opacity="0.5"/>
<clipPath id="cv8"><path d="M292.7 824.1 V827.1 Q285.7 827.1 285.7 832.1 L285.7 896.8 Q285.7 907.8 296.7 907.8 L326.9 907.8 Q337.9 907.8 337.9 896.8 L337.9 832.1 Q337.9 827.1 330.9 827.1 V824.1 Z"/></clipPath>
<path d="M292.7 824.1 V827.1 Q285.7 827.1 285.7 832.1 L285.7 896.8 Q285.7 907.8 296.7 907.8 L326.9 907.8 Q337.9 907.8 337.9 896.8 L337.9 832.1 Q337.9 827.1 330.9 827.1 V824.1 Z" fill="url(#gGlass)"/>
<g clip-path="url(#cv8)">
<ellipse cx="311.8" cy="831.6" rx="23.1" ry="2.2" fill="#e6e6e6" opacity="0.75"/>
<ellipse cx="311.8" cy="836.1" rx="20.1" ry="2.4" fill="#8e8e8e" opacity="0.5"/>
<path d="M284.7 847.0 Q311.8 853.0 338.9 847.0 V909.8 H284.7 Z" fill="#e4e4e4"/>
<ellipse cx="311.8" cy="847.0" rx="26.1" ry="3.0" fill="#e4e4e4"/>
<path d="M284.7 860.0 Q311.8 866.0 338.9 860.0 V909.8 H284.7 Z" fill="#e6e6e6"/>
<path d="M284.7 885.0 Q311.8 891.0 338.9 885.0 V909.8 H284.7 Z" fill="#c8c8c8"/>
<path d="M285.7 848.0 Q311.8 854.0 337.9 848.0" fill="none" stroke="#777" stroke-width="0.9" opacity="0.6"/>
<path d="M285.7 885.0 Q311.8 891.0 337.9 885.0" fill="none" stroke="#8f8f8f" stroke-width="0.9" opacity="0.6"/>
<path d="M285.7 901.8 Q311.8 910.8 337.9 901.8 V909.8 H285.7 Z" fill="#e4e4e4" opacity="0.55"/>
<rect x="285.7" y="827.1" width="52.2" height="80.7" fill="url(#gShade)"/>
</g>
<ellipse cx="314.1" cy="802.8" rx="25.2" ry="4.6" fill="#3d3d3e"/>
<path d="M288.5 803.3 Q314.1 808.3 339.8 803.3 L340.8 807.3 V826.1 Q314.1 830.1 287.5 826.1 V807.3 Z" fill="url(#gCap2)"/>
<clipPath id="cc8"><path d="M288.5 803.3 Q314.1 808.3 339.8 803.3 L340.8 807.3 V826.1 Q314.1 830.1 287.5 826.1 V807.3 Z"/></clipPath>
<rect x="297.1" y="804.3" width="34.1" height="26.3" fill="url(#pRidge)" clip-path="url(#cc8)"/>
<path d="M289.0 803.9 Q314.1 808.9 339.3 803.9" fill="none" stroke="#8c8c8c" stroke-width="0.8" opacity="0.7"/>
<path d="M288.0 823.2 Q314.1 827.4 340.3 823.2" fill="none" stroke="#8a8a8a" stroke-width="0.7" opacity="0.5"/>
<clipPath id="cv9"><path d="M343.4 827.0 V830.0 Q336.4 830.0 336.4 835.0 L336.4 896.2 Q336.4 907.2 347.4 907.2 L381.9 907.2 Q392.9 907.2 392.9 896.2 L392.9 835.0 Q392.9 830.0 385.9 830.0 V827.0 Z"/></clipPath>
<path d="M343.4 827.0 V830.0 Q336.4 830.0 336.4 835.0 L336.4 896.2 Q336.4 907.2 347.4 907.2 L381.9 907.2 Q392.9 907.2 392.9 896.2 L392.9 835.0 Q392.9 830.0 385.9 830.0 V827.0 Z" fill="url(#gGlass)"/>
<g clip-path="url(#cv9)">
<ellipse cx="364.6" cy="834.5" rx="25.2" ry="2.2" fill="#e6e6e6" opacity="0.75"/>
<ellipse cx="364.6" cy="839.0" rx="22.2" ry="2.4" fill="#8e8e8e" opacity="0.5"/>
<path d="M335.4 848.0 Q364.6 854.0 393.9 848.0 V909.2 H335.4 Z" fill="#e8e8e8"/>
<ellipse cx="364.6" cy="848.0" rx="28.2" ry="3.0" fill="#e8e8e8"/>
<path d="M335.4 856.0 Q364.6 862.0 393.9 856.0 V909.2 H335.4 Z" fill="#b8b4b2"/>
<path d="M335.4 866.0 Q364.6 872.0 393.9 866.0 V909.2 H335.4 Z" fill="#e3e1e0"/>
<path d="M335.4 877.0 Q364.6 883.0 393.9 877.0 V909.2 H335.4 Z" fill="#e6ebf2"/>
<path d="M336.4 859.0 Q364.6 865.0 392.9 859.0" fill="none" stroke="#ededed" stroke-width="1.1" opacity="0.8"/>
<path d="M336.4 863.0 Q364.6 869.0 392.9 863.0" fill="none" stroke="#8e8a88" stroke-width="1.0" opacity="0.6"/>
<path d="M336.4 873.0 Q364.6 879.0 392.9 873.0" fill="none" stroke="#c2b8b0" stroke-width="1.3" opacity="0.7"/>
<path d="M336.4 901.2 Q364.6 910.2 392.9 901.2 V909.2 H336.4 Z" fill="#e4e4e4" opacity="0.55"/>
<rect x="336.4" y="830.0" width="56.5" height="77.2" fill="url(#gShade)"/>
</g>
<ellipse cx="368.6" cy="804.0" rx="26.3" ry="4.6" fill="#3d3d3e"/>
<path d="M341.8 804.5 Q368.6 809.5 395.4 804.5 L396.4 808.5 V829.0 Q368.6 833.0 340.8 829.0 V808.5 Z" fill="url(#gCap)"/>
<clipPath id="cc9"><path d="M341.8 804.5 Q368.6 809.5 395.4 804.5 L396.4 808.5 V829.0 Q368.6 833.0 340.8 829.0 V808.5 Z"/></clipPath>
<rect x="350.8" y="805.5" width="35.6" height="28.0" fill="url(#pRidge)" clip-path="url(#cc9)"/>
<path d="M342.3 805.1 Q368.6 810.1 394.9 805.1" fill="none" stroke="#8c8c8c" stroke-width="0.8" opacity="0.7"/>
<path d="M341.3 826.1 Q368.6 830.3 395.9 826.1" fill="none" stroke="#8a8a8a" stroke-width="0.7" opacity="0.5"/>
<g transform="translate(79.92,0) skewX(-5.5)">
<clipPath id="cv10"><path d="M402.5 827.0 V830.0 Q395.5 830.0 395.5 835.0 L395.5 899.1 Q395.5 910.1 406.5 910.1 L440.0 910.1 Q451.0 910.1 451.0 899.1 L451.0 835.0 Q451.0 830.0 444.0 830.0 V827.0 Z"/></clipPath>
<path d="M402.5 827.0 V830.0 Q395.5 830.0 395.5 835.0 L395.5 899.1 Q395.5 910.1 406.5 910.1 L440.0 910.1 Q451.0 910.1 451.0 899.1 L451.0 835.0 Q451.0 830.0 444.0 830.0 V827.0 Z" fill="url(#gGlass)"/>
<g clip-path="url(#cv10)">
<ellipse cx="423.2" cy="834.5" rx="24.8" ry="2.2" fill="#e6e6e6" opacity="0.75"/>
<ellipse cx="423.2" cy="839.0" rx="21.8" ry="2.4" fill="#8e8e8e" opacity="0.5"/>
<path d="M394.5 852.0 Q423.2 858.0 452.0 852.0 V912.1 H394.5 Z" fill="#d9d9d9"/>
<ellipse cx="423.2" cy="852.0" rx="27.8" ry="3.0" fill="#d9d9d9"/>
<path d="M394.5 882.0 Q423.2 888.0 452.0 882.0 V912.1 H394.5 Z" fill="#dedede"/>
<path d="M395.5 853.0 Q423.2 859.0 451.0 853.0" fill="none" stroke="#f0f0f0" stroke-width="1.2" opacity="0.8"/>
<path d="M395.5 882.0 Q423.2 888.0 451.0 882.0" fill="none" stroke="#f0f0f0" stroke-width="0.8" opacity="0.6"/>
<path d="M395.5 904.1 Q423.2 913.1 451.0 904.1 V912.1 H395.5 Z" fill="#e4e4e4" opacity="0.55"/>
<rect x="395.5" y="830.0" width="55.5" height="80.1" fill="url(#gShade)"/>
</g>
</g>
<g transform="rotate(2.48 426.8 815.5)">
<ellipse cx="426.8" cy="804.0" rx="27.4" ry="4.6" fill="#3d3d3e"/>
<path d="M398.9 804.5 Q426.8 809.5 454.6 804.5 L455.6 808.5 V829.0 Q426.8 833.0 397.9 829.0 V808.5 Z" fill="url(#gCap)"/>
<clipPath id="cc10"><path d="M398.9 804.5 Q426.8 809.5 454.6 804.5 L455.6 808.5 V829.0 Q426.8 833.0 397.9 829.0 V808.5 Z"/></clipPath>
<rect x="408.3" y="805.5" width="36.9" height="28.0" fill="url(#pRidge)" clip-path="url(#cc10)"/>
<path d="M399.4 805.1 Q426.8 810.1 454.1 805.1" fill="none" stroke="#8c8c8c" stroke-width="0.8" opacity="0.7"/>
<path d="M398.4 826.1 Q426.8 830.3 455.1 826.1" fill="none" stroke="#8a8a8a" stroke-width="0.7" opacity="0.5"/>
</g>
<clipPath id="cv11"><path d="M181.4 942.0 V945.0 Q174.4 945.0 174.4 950.0 L174.4 1018.5 Q174.4 1029.5 185.4 1029.5 L222.0 1029.5 Q233.0 1029.5 233.0 1018.5 L233.0 950.0 Q233.0 945.0 226.0 945.0 V942.0 Z"/></clipPath>
<path d="M181.4 942.0 V945.0 Q174.4 945.0 174.4 950.0 L174.4 1018.5 Q174.4 1029.5 185.4 1029.5 L222.0 1029.5 Q233.0 1029.5 233.0 1018.5 L233.0 950.0 Q233.0 945.0 226.0 945.0 V942.0 Z" fill="url(#gGlass)"/>
<g clip-path="url(#cv11)">
<ellipse cx="203.7" cy="949.5" rx="26.3" ry="2.2" fill="#e6e6e6" opacity="0.75"/>
<ellipse cx="203.7" cy="954.0" rx="23.3" ry="2.4" fill="#8e8e8e" opacity="0.5"/>
<path d="M173.4 966.0 Q203.7 972.0 234.0 966.0 V1031.5 H173.4 Z" fill="#e8e8e8"/>
<ellipse cx="203.7" cy="966.0" rx="29.3" ry="3.0" fill="#e8e8e8"/>
<path d="M173.4 978.0 Q203.7 984.0 234.0 978.0 V1031.5 H173.4 Z" fill="#dedede"/>
<path d="M173.4 1004.0 Q203.7 1010.0 234.0 1004.0 V1031.5 H173.4 Z" fill="#c8c8c8"/>
<path d="M174.4 967.0 Q203.7 973.0 233.0 967.0" fill="none" stroke="#888" stroke-width="0.8" opacity="0.5"/>
<path d="M174.4 1023.5 Q203.7 1032.5 233.0 1023.5 V1031.5 H174.4 Z" fill="#e4e4e4" opacity="0.55"/>
<rect x="174.4" y="945.0" width="58.6" height="84.5" fill="url(#gShade)"/>
</g>
<ellipse cx="201.7" cy="922.1" rx="26.3" ry="4.6" fill="#3d3d3e"/>
<path d="M174.8 922.6 Q201.7 927.6 228.5 922.6 L229.5 926.6 V944.0 Q201.7 948.0 173.8 944.0 V926.6 Z" fill="url(#gCap)"/>
<clipPath id="cc11"><path d="M174.8 922.6 Q201.7 927.6 228.5 922.6 L229.5 926.6 V944.0 Q201.7 948.0 173.8 944.0 V926.6 Z"/></clipPath>
<rect x="183.8" y="923.6" width="35.6" height="24.9" fill="url(#pRidge)" clip-path="url(#cc11)"/>
<path d="M175.3 923.2 Q201.7 928.2 228.0 923.2" fill="none" stroke="#8c8c8c" stroke-width="0.8" opacity="0.7"/>
<path d="M174.3 941.1 Q201.7 945.3 229.0 941.1" fill="none" stroke="#8a8a8a" stroke-width="0.7" opacity="0.5"/>
<clipPath id="cv12"><path d="M238.8 942.0 V945.0 Q231.8 945.0 231.8 950.0 L231.8 1017.6 Q231.8 1028.6 242.8 1028.6 L274.7 1028.6 Q285.7 1028.6 285.7 1017.6 L285.7 950.0 Q285.7 945.0 278.7 945.0 V942.0 Z"/></clipPath>
<path d="M238.8 942.0 V945.0 Q231.8 945.0 231.8 950.0 L231.8 1017.6 Q231.8 1028.6 242.8 1028.6 L274.7 1028.6 Q285.7 1028.6 285.7 1017.6 L285.7 950.0 Q285.7 945.0 278.7 945.0 V942.0 Z" fill="url(#gGlass)"/>
<g clip-path="url(#cv12)">
<ellipse cx="258.8" cy="949.5" rx="23.9" ry="2.2" fill="#e6e6e6" opacity="0.75"/>
<ellipse cx="258.8" cy="954.0" rx="20.9" ry="2.4" fill="#8e8e8e" opacity="0.5"/>
<path d="M230.8 966.0 Q258.8 972.0 286.7 966.0 V1030.6 H230.8 Z" fill="#e0e0e0"/>
<ellipse cx="258.8" cy="966.0" rx="26.9" ry="3.0" fill="#e0e0e0"/>
<path d="M230.8 978.0 Q258.8 984.0 286.7 978.0 V1030.6 H230.8 Z" fill="#c8c8c8"/>
<path d="M230.8 990.0 Q258.8 996.0 286.7 990.0 V1030.6 H230.8 Z" fill="#d6d6d6"/>
<path d="M230.8 1004.0 Q258.8 1010.0 286.7 1004.0 V1030.6 H230.8 Z" fill="#c6c6c6"/>
<path d="M231.8 978.0 Q258.8 984.0 285.7 978.0" fill="none" stroke="#666" stroke-width="1.2" opacity="0.6"/>
<path d="M231.8 1003.0 Q258.8 1009.0 285.7 1003.0" fill="none" stroke="#777" stroke-width="1.0" opacity="0.6"/>
<path d="M231.8 1022.6 Q258.8 1031.6 285.7 1022.6 V1030.6 H231.8 Z" fill="#e4e4e4" opacity="0.55"/>
<rect x="231.8" y="945.0" width="53.9" height="83.6" fill="url(#gShade)"/>
</g>
<ellipse cx="258.0" cy="922.1" rx="25.6" ry="4.6" fill="#3d3d3e"/>
<path d="M231.9 922.6 Q258.0 927.6 284.1 922.6 L285.1 926.6 V944.0 Q258.0 948.0 230.9 944.0 V926.6 Z" fill="url(#gCap2)"/>
<clipPath id="cc12"><path d="M231.9 922.6 Q258.0 927.6 284.1 922.6 L285.1 926.6 V944.0 Q258.0 948.0 230.9 944.0 V926.6 Z"/></clipPath>
<rect x="240.7" y="923.6" width="34.7" height="24.9" fill="url(#pRidge)" clip-path="url(#cc12)"/>
<path d="M232.4 923.2 Q258.0 928.2 283.6 923.2" fill="none" stroke="#8c8c8c" stroke-width="0.8" opacity="0.7"/>
<path d="M231.4 941.1 Q258.0 945.3 284.6 941.1" fill="none" stroke="#8a8a8a" stroke-width="0.7" opacity="0.5"/>
<clipPath id="cv13"><path d="M292.7 942.0 V945.0 Q285.7 945.0 285.7 950.0 L285.7 1018.5 Q285.7 1029.5 296.7 1029.5 L326.9 1029.5 Q337.9 1029.5 337.9 1018.5 L337.9 950.0 Q337.9 945.0 330.9 945.0 V942.0 Z"/></clipPath>
<path d="M292.7 942.0 V945.0 Q285.7 945.0 285.7 950.0 L285.7 1018.5 Q285.7 1029.5 296.7 1029.5 L326.9 1029.5 Q337.9 1029.5 337.9 1018.5 L337.9 950.0 Q337.9 945.0 330.9 945.0 V942.0 Z" fill="url(#gGlass)"/>
<g clip-path="url(#cv13)">
<ellipse cx="311.8" cy="949.5" rx="23.1" ry="2.2" fill="#e6e6e6" opacity="0.75"/>
<ellipse cx="311.8" cy="954.0" rx="20.1" ry="2.4" fill="#8e8e8e" opacity="0.5"/>
<path d="M284.7 966.0 Q311.8 972.0 338.9 966.0 V1031.5 H284.7 Z" fill="#e6e6e6"/>
<ellipse cx="311.8" cy="966.0" rx="26.1" ry="3.0" fill="#e6e6e6"/>
<path d="M284.7 977.0 Q311.8 983.0 338.9 977.0 V1031.5 H284.7 Z" fill="#dfdfdf"/>
<path d="M284.7 1004.0 Q311.8 1010.0 338.9 1004.0 V1031.5 H284.7 Z" fill="#c8c8c8"/>
<path d="M285.7 967.0 Q311.8 973.0 337.9 967.0" fill="none" stroke="#777" stroke-width="0.8" opacity="0.5"/>
<path d="M285.7 1023.5 Q311.8 1032.5 337.9 1023.5 V1031.5 H285.7 Z" fill="#e4e4e4" opacity="0.55"/>
<rect x="285.7" y="945.0" width="52.2" height="84.5" fill="url(#gShade)"/>
</g>
<ellipse cx="312.2" cy="919.2" rx="24.1" ry="4.6" fill="#3d3d3e"/>
<path d="M287.6 919.7 Q312.2 924.7 336.9 919.7 L337.9 923.7 V944.0 Q312.2 948.0 286.6 944.0 V923.7 Z" fill="url(#gCap2)"/>
<clipPath id="cc13"><path d="M287.6 919.7 Q312.2 924.7 336.9 919.7 L337.9 923.7 V944.0 Q312.2 948.0 286.6 944.0 V923.7 Z"/></clipPath>
<rect x="295.8" y="920.7" width="32.8" height="27.8" fill="url(#pRidge)" clip-path="url(#cc13)"/>
<path d="M288.1 920.3 Q312.2 925.3 336.4 920.3" fill="none" stroke="#8c8c8c" stroke-width="0.8" opacity="0.7"/>
<path d="M287.1 941.1 Q312.2 945.3 337.4 941.1" fill="none" stroke="#8a8a8a" stroke-width="0.7" opacity="0.5"/>
<clipPath id="cv14"><path d="M344.9 942.0 V945.0 Q337.9 945.0 337.9 950.0 L337.9 1016.5 Q337.9 1027.5 348.9 1027.5 L381.0 1027.5 Q392.0 1027.5 392.0 1016.5 L392.0 950.0 Q392.0 945.0 385.0 945.0 V942.0 Z"/></clipPath>
<path d="M344.9 942.0 V945.0 Q337.9 945.0 337.9 950.0 L337.9 1016.5 Q337.9 1027.5 348.9 1027.5 L381.0 1027.5 Q392.0 1027.5 392.0 1016.5 L392.0 950.0 Q392.0 945.0 385.0 945.0 V942.0 Z" fill="url(#gGlass)"/>
<g clip-path="url(#cv14)">
<ellipse cx="364.9" cy="949.5" rx="24.1" ry="2.2" fill="#e6e6e6" opacity="0.75"/>
<ellipse cx="364.9" cy="954.0" rx="21.1" ry="2.4" fill="#8e8e8e" opacity="0.5"/>
<path d="M336.9 963.0 Q364.9 969.0 393.0 963.0 V1029.5 H336.9 Z" fill="#e6e6e6"/>
<ellipse cx="364.9" cy="963.0" rx="27.1" ry="3.0" fill="#e6e6e6"/>
<path d="M336.9 976.0 Q364.9 982.0 393.0 976.0 V1029.5 H336.9 Z" fill="#e9e9e9"/>
<path d="M336.9 1001.0 Q364.9 1007.0 393.0 1001.0 V1029.5 H336.9 Z" fill="#c8c8c8"/>
<path d="M337.9 1001.0 Q364.9 1007.0 392.0 1001.0" fill="none" stroke="#8a8a8a" stroke-width="1.0" opacity="0.6"/>
<path d="M337.9 1021.5 Q364.9 1030.5 392.0 1021.5 V1029.5 H337.9 Z" fill="#e4e4e4" opacity="0.55"/>
<rect x="337.9" y="945.0" width="54.1" height="82.5" fill="url(#gShade)"/>
</g>
<ellipse cx="366.5" cy="919.2" rx="24.8" ry="4.6" fill="#3d3d3e"/>
<path d="M341.2 919.7 Q366.5 924.7 391.9 919.7 L392.9 923.7 V944.0 Q366.5 948.0 340.2 944.0 V923.7 Z" fill="url(#gCap)"/>
<clipPath id="cc14"><path d="M341.2 919.7 Q366.5 924.7 391.9 919.7 L392.9 923.7 V944.0 Q366.5 948.0 340.2 944.0 V923.7 Z"/></clipPath>
<rect x="349.7" y="920.7" width="33.7" height="27.8" fill="url(#pRidge)" clip-path="url(#cc14)"/>
<path d="M341.7 920.3 Q366.5 925.3 391.4 920.3" fill="none" stroke="#8c8c8c" stroke-width="0.8" opacity="0.7"/>
<path d="M340.7 941.1 Q366.5 945.3 392.4 941.1" fill="none" stroke="#8a8a8a" stroke-width="0.7" opacity="0.5"/>
<g transform="translate(33.05,0) skewX(-2.0)">
<clipPath id="cv15"><path d="M399.5 943.5 V946.5 Q392.5 946.5 392.5 951.5 L392.5 1019.4 Q392.5 1030.4 403.5 1030.4 L439.5 1030.4 Q450.5 1030.4 450.5 1019.4 L450.5 951.5 Q450.5 946.5 443.5 946.5 V943.5 Z"/></clipPath>
<path d="M399.5 943.5 V946.5 Q392.5 946.5 392.5 951.5 L392.5 1019.4 Q392.5 1030.4 403.5 1030.4 L439.5 1030.4 Q450.5 1030.4 450.5 1019.4 L450.5 951.5 Q450.5 946.5 443.5 946.5 V943.5 Z" fill="url(#gGlass)"/>
<g clip-path="url(#cv15)">
<ellipse cx="421.5" cy="951.0" rx="26.0" ry="2.2" fill="#e6e6e6" opacity="0.75"/>
<ellipse cx="421.5" cy="955.5" rx="23.0" ry="2.4" fill="#8e8e8e" opacity="0.5"/>
<path d="M391.5 968.0 Q421.5 974.0 451.5 968.0 V1032.4 H391.5 Z" fill="#e9e9e9"/>
<ellipse cx="421.5" cy="968.0" rx="29.0" ry="3.0" fill="#e9e9e9"/>
<path d="M391.5 983.0 Q421.5 989.0 451.5 983.0 V1032.4 H391.5 Z" fill="#d9d9d9"/>
<path d="M391.5 1002.0 Q421.5 1008.0 451.5 1002.0 V1032.4 H391.5 Z" fill="#c8c8c8"/>
<path d="M392.5 1002.0 Q421.5 1008.0 450.5 1002.0" fill="none" stroke="#8f8f8f" stroke-width="1.0" opacity="0.5"/>
<path d="M392.5 1012.0 Q421.5 1018.0 450.5 1012.0" fill="none" stroke="#e9e9e9" stroke-width="1.0" opacity="0.6"/>
<path d="M392.5 1024.4 Q421.5 1033.4 450.5 1024.4 V1032.4 H392.5 Z" fill="#e4e4e4" opacity="0.55"/>
<rect x="392.5" y="946.5" width="58.0" height="83.9" fill="url(#gShade)"/>
</g>
</g>
<g transform="rotate(0.90 423.9 931.4)">
<ellipse cx="423.9" cy="919.2" rx="26.8" ry="4.6" fill="#3d3d3e"/>
<path d="M396.6 919.7 Q423.9 924.7 451.1 919.7 L452.1 923.7 V945.5 Q423.9 949.5 395.6 945.5 V923.7 Z" fill="url(#gCap)"/>
<clipPath id="cc15"><path d="M396.6 919.7 Q423.9 924.7 451.1 919.7 L452.1 923.7 V945.5 Q423.9 949.5 395.6 945.5 V923.7 Z"/></clipPath>
<rect x="405.8" y="920.7" width="36.2" height="29.3" fill="url(#pRidge)" clip-path="url(#cc15)"/>
<path d="M397.1 920.3 Q423.9 925.3 450.6 920.3" fill="none" stroke="#8c8c8c" stroke-width="0.8" opacity="0.7"/>
<path d="M396.1 942.6 Q423.9 946.8 451.6 942.6" fill="none" stroke="#8a8a8a" stroke-width="0.7" opacity="0.5"/>
</g>
</g></g>
<text x="39.7" y="750.9" font-size="16.5" textLength="110" lengthAdjust="spacingAndGlyphs">LSL-CD-MOFs</text>
<text x="77.3" y="875.6" font-size="16.5" textLength="30" lengthAdjust="spacingAndGlyphs">LSL</text>
<text x="41.3" y="1002.6" font-size="16.5" textLength="87.9" lengthAdjust="spacingAndGlyphs">γ-CD-MOFs</text>
<text x="203.7" y="1049.9" font-size="16.5" text-anchor="middle">a</text>
<text x="260.8" y="1049.9" font-size="16.5" text-anchor="middle">b</text>
<text x="308.9" y="1049.9" font-size="16.5" text-anchor="middle">c</text>
<text x="361.3" y="1049.9" font-size="16.5" text-anchor="middle">d</text>
<text x="414" y="1049.9" font-size="16.5" text-anchor="middle">e</text>
</g><g id="panelE">
<rect x="559.9" y="677.8" width="450.4" height="348.60000000000014" fill="#f8f8f8"/>
<rect x="568.50" y="772.65" width="24.15" height="253.75" fill="#6fb5ea" stroke="#34607f" stroke-width="0.9"/>
<rect x="592.65" y="1000.06" width="24.15" height="26.34" fill="#0f5c40" stroke="#0a3a28" stroke-width="0.9"/>
<rect x="616.80" y="964.42" width="24.15" height="61.98" fill="#f26d65" stroke="#7a2a26" stroke-width="0.9"/>
<path d="M580.58 773.43 V771.88 M576.98 771.88 H584.18 M576.98 773.43 H584.18" stroke="#3c3c3c" stroke-width="0.65" fill="none"/>
<path d="M604.73 1020.2 V979.91 M601.12 979.91 H608.33 M601.12 1020.2 H608.33" stroke="#3c3c3c" stroke-width="0.65" fill="none"/>
<path d="M628.88 1003.93 V924.9 M625.27 924.9 H632.48 M625.27 1003.93 H632.48" stroke="#3c3c3c" stroke-width="0.65" fill="none"/>
<rect x="658.70" y="809.46" width="24.15" height="216.94" fill="#6fb5ea" stroke="#34607f" stroke-width="0.9"/>
<rect x="682.85" y="1005.48" width="24.15" height="20.92" fill="#0f5c40" stroke="#0a3a28" stroke-width="0.9"/>
<rect x="707.00" y="978.75" width="24.15" height="47.65" fill="#f26d65" stroke="#7a2a26" stroke-width="0.9"/>
<path d="M670.78 820.3 V798.61 M667.18 798.61 H674.38 M667.18 820.3 H674.38" stroke="#3c3c3c" stroke-width="0.65" fill="none"/>
<path d="M694.93 1021.75 V989.98 M691.33 989.98 H698.53 M691.33 1021.75 H698.53" stroke="#3c3c3c" stroke-width="0.65" fill="none"/>
<path d="M719.08 1018.65 V938.46 M715.48 938.46 H722.68 M715.48 1018.65 H722.68" stroke="#3c3c3c" stroke-width="0.65" fill="none"/>
<rect x="748.90" y="808.68" width="24.15" height="217.72" fill="#6fb5ea" stroke="#34607f" stroke-width="0.9"/>
<rect x="773.05" y="969.06" width="24.15" height="57.34" fill="#0f5c40" stroke="#0a3a28" stroke-width="0.9"/>
<rect x="797.20" y="1010.9" width="24.15" height="15.50" fill="#f26d65" stroke="#7a2a26" stroke-width="0.9"/>
<path d="M760.98 816.43 V800.55 M757.38 800.55 H764.58 M757.38 816.43 H764.58" stroke="#3c3c3c" stroke-width="0.65" fill="none"/>
<path d="M785.12 1009.74 V928.0 M781.52 928.0 H788.73 M781.52 1009.74 H788.73" stroke="#3c3c3c" stroke-width="0.65" fill="none"/>
<path d="M809.27 1032.6 V989.21 M805.67 989.21 H812.88 M805.67 1032.6 H812.88" stroke="#3c3c3c" stroke-width="0.65" fill="none"/>
<rect x="839.10" y="957.44" width="24.15" height="68.96" fill="#6fb5ea" stroke="#34607f" stroke-width="0.9"/>
<rect x="863.25" y="1003.54" width="24.15" height="22.86" fill="#0f5c40" stroke="#0a3a28" stroke-width="0.9"/>
<rect x="887.40" y="962.87" width="24.15" height="63.53" fill="#f26d65" stroke="#7a2a26" stroke-width="0.9"/>
<path d="M851.18 970.23 V944.66 M847.58 944.66 H854.78 M847.58 970.23 H854.78" stroke="#3c3c3c" stroke-width="0.65" fill="none"/>
<path d="M899.48 972.16 V953.96 M895.88 953.96 H903.08 M895.88 972.16 H903.08" stroke="#3c3c3c" stroke-width="0.65" fill="none"/>
<rect x="929.30" y="800.16" width="24.15" height="226.24" fill="#6fb5ea" stroke="#34607f" stroke-width="0.9"/>
<path d="M941.38 804.81 V795.51 M937.77 795.51 H944.98 M937.77 804.81 H944.98" stroke="#3c3c3c" stroke-width="0.65" fill="none"/>
<path d="M559.9 677.8 H1010.3 V1026.4" fill="none" stroke="#222" stroke-width="1"/>
<path d="M559.9 677.3 V1026.4 H1010.8" fill="none" stroke="#1c1c1c" stroke-width="1.1"/>
<path d="M552.9 1026.4 H559.9 M552.9 987.66 H559.9 M552.9 948.92 H559.9 M552.9 910.18 H559.9 M552.9 871.44 H559.9 M552.9 832.7 H559.9 M552.9 793.96 H559.9 M552.9 755.22 H559.9 M552.9 716.48 H559.9 M552.9 677.74 H559.9 M556.1999999999999 1007.03 H559.9 M556.1999999999999 968.29 H559.9 M556.1999999999999 929.55 H559.9 M556.1999999999999 890.81 H559.9 M556.1999999999999 852.07 H559.9 M556.1999999999999 813.33 H559.9 M556.1999999999999 774.59 H559.9 M556.1999999999999 735.85 H559.9 M556.1999999999999 697.11 H559.9 M604.73 1026.4 V1032.3000000000002 M694.93 1026.4 V1032.3000000000002 M785.12 1026.4 V1032.3000000000002 M875.33 1026.4 V1032.3000000000002 M965.52 1026.4 V1032.3000000000002 M559.90 1026.4 V1029.4 M649.83 1026.4 V1029.4 M740.02 1026.4 V1029.4 M830.23 1026.4 V1029.4 M920.43 1026.4 V1029.4 M1010.63 1026.4 V1029.4 " stroke="#1c1c1c" stroke-width="1.0" fill="none"/>
<text x="545.3" y="1030.4" font-size="14.5" text-anchor="end" textLength="7" lengthAdjust="spacingAndGlyphs">0</text>
<text x="545.3" y="991.7" font-size="14.5" text-anchor="end" textLength="14.2" lengthAdjust="spacingAndGlyphs">10</text>
<text x="545.3" y="952.9" font-size="14.5" text-anchor="end" textLength="14.2" lengthAdjust="spacingAndGlyphs">20</text>
<text x="545.3" y="914.2" font-size="14.5" text-anchor="end" textLength="14.2" lengthAdjust="spacingAndGlyphs">30</text>
<text x="545.3" y="875.4" font-size="14.5" text-anchor="end" textLength="14.2" lengthAdjust="spacingAndGlyphs">40</text>
<text x="545.3" y="836.7" font-size="14.5" text-anchor="end" textLength="14.2" lengthAdjust="spacingAndGlyphs">50</text>
<text x="545.3" y="798.0" font-size="14.5" text-anchor="end" textLength="14.2" lengthAdjust="spacingAndGlyphs">60</text>
<text x="545.3" y="759.2" font-size="14.5" text-anchor="end" textLength="14.2" lengthAdjust="spacingAndGlyphs">70</text>
<text x="545.3" y="720.5" font-size="14.5" text-anchor="end" textLength="14.2" lengthAdjust="spacingAndGlyphs">80</text>
<text x="545.3" y="681.7" font-size="14.5" text-anchor="end" textLength="14.2" lengthAdjust="spacingAndGlyphs">90</text>
<text x="604.5" y="1050" font-size="15.6" text-anchor="middle" textLength="71.5" lengthAdjust="spacingAndGlyphs">Silicone oil</text>
<text x="691.0" y="1050" font-size="15.6" text-anchor="middle" textLength="76.6" lengthAdjust="spacingAndGlyphs">Hexadecane</text>
<text x="782.8" y="1050" font-size="15.6" text-anchor="middle" textLength="61" lengthAdjust="spacingAndGlyphs">n-Hexane</text>
<text x="873.9" y="1050" font-size="15.6" text-anchor="middle" textLength="50.8" lengthAdjust="spacingAndGlyphs">Xylenes</text>
<text x="964.5" y="1050" font-size="15.6" text-anchor="middle" textLength="67.9" lengthAdjust="spacingAndGlyphs">mineral oil</text>
<text transform="translate(522,864.4) rotate(-90)" font-size="14.5" text-anchor="middle" textLength="166.3" lengthAdjust="spacingAndGlyphs">Emulsification Index (EI24)</text>
<rect x="792.7" y="686.8" width="210.9" height="68.3" fill="#f8f8f8" stroke="#9a9a9a" stroke-width="0.9"/>
<rect x="795.3" y="688.8" width="41.8" height="19.8" fill="#6fb5ea" stroke="#34607f" stroke-width="0.9"/>
<text x="843" y="705.3" font-size="15.5" textLength="100.5" lengthAdjust="spacingAndGlyphs">LSL-CD-MOFs</text>
<rect x="795.3" y="711.2" width="41.8" height="19.8" fill="#0f5c40" stroke="#0a3a28" stroke-width="0.9"/>
<text x="843" y="727.7" font-size="15.5" textLength="27" lengthAdjust="spacingAndGlyphs">LSL</text>
<rect x="795.3" y="733.7" width="41.8" height="19.8" fill="#f26d65" stroke="#7a2a26" stroke-width="0.9"/>
<text x="843" y="749.9" font-size="15.5" textLength="79.5" lengthAdjust="spacingAndGlyphs">γ-CD-MOFs</text>
</g>
<g id="labels"><text x="313.5" y="346.7" font-size="20" text-anchor="middle">(A)</text><text x="829" y="347.3" font-size="20" text-anchor="middle">(B)</text><text x="557.9" y="659.3" font-size="20" text-anchor="middle">(C)</text><text x="313.3" y="1093" font-size="20" text-anchor="middle">(D)</text><text x="775" y="1092.5" font-size="20" text-anchor="middle">(E)</text></g>
</svg>
</body></html>
